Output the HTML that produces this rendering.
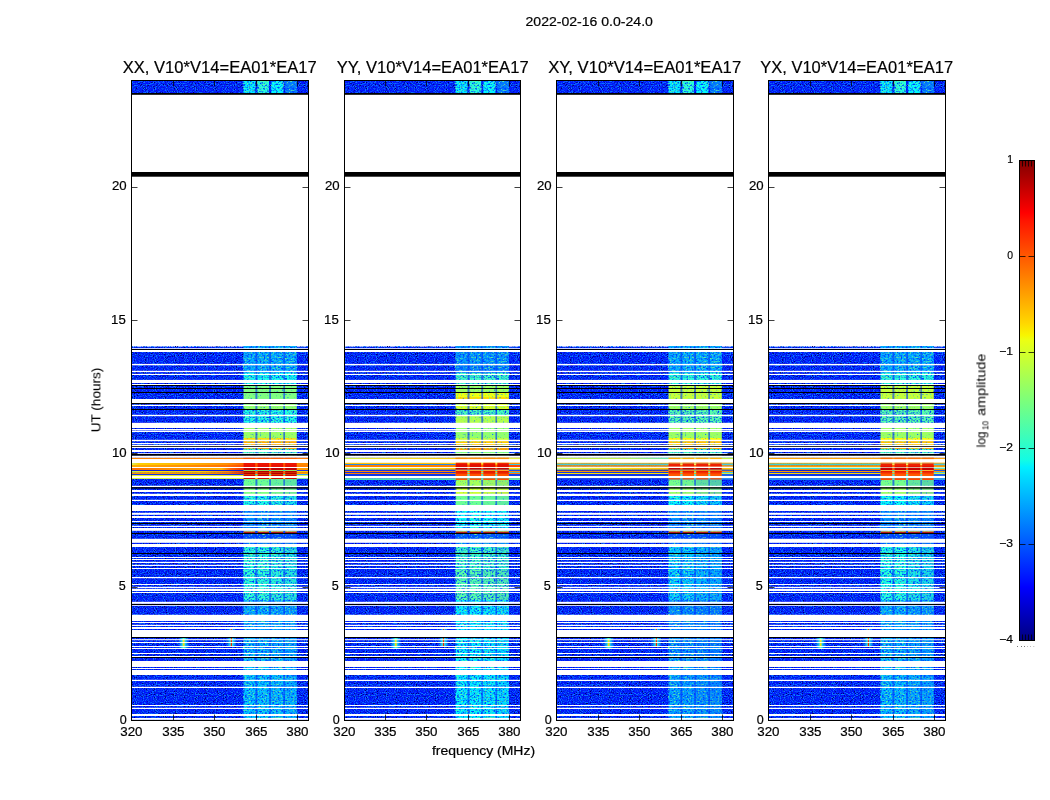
<!DOCTYPE html>
<html><head><meta charset="utf-8"><title>waterfall</title>
<style>html,body{margin:0;padding:0;background:#fff}svg{display:block}text{font-family:"Liberation Sans",sans-serif;fill:#000;stroke:#000;stroke-width:0.2px}.ns text{stroke:none}</style></head><body>
<svg width="1050" height="800" viewBox="0 0 1050 800">
<defs>
<filter id="nzD" x="0" y="0" width="100%" height="100%" color-interpolation-filters="sRGB">
<feTurbulence type="fractalNoise" baseFrequency="0.9" numOctaves="1" seed="7" result="t"/>
<feColorMatrix in="t" type="matrix" values="0 0 0 0 0  0 0 0 0 0  0 0 0 0 0.42  6 0 0 0 -3.3" result="n"/>
</filter>
<filter id="nzL" x="0" y="0" width="100%" height="100%" color-interpolation-filters="sRGB">
<feTurbulence type="fractalNoise" baseFrequency="0.9" numOctaves="1" seed="31" result="t"/>
<feColorMatrix in="t" type="matrix" values="0 0 0 0 0.04  0 0 0 0 0.48  0 0 0 0 1  0 4.5 0 0 -2.12" result="n"/>
</filter>
<filter id="nzB" x="0" y="0" width="100%" height="100%" color-interpolation-filters="sRGB">
<feTurbulence type="fractalNoise" baseFrequency="0.55 0.7" numOctaves="1" seed="11" result="t"/>
<feColorMatrix in="t" type="matrix" values="0 0 0 0 0  0 0 0 0 0.25  0 0 0 0 1  0 0 4 0 -1.85" result="n"/>
</filter>
<filter id="nzB2" x="0" y="0" width="100%" height="100%" color-interpolation-filters="sRGB">
<feTurbulence type="fractalNoise" baseFrequency="0.55 0.7" numOctaves="1" seed="11" result="t"/>
<feColorMatrix in="t" type="matrix" values="0 0 0 0 0  0 0 0 0 0.45  0 0 0 0 1  0 0 4 0 -2.45" result="n"/>
</filter>
<filter id="nzG" x="0" y="0" width="100%" height="100%" color-interpolation-filters="sRGB">
<feTurbulence type="fractalNoise" baseFrequency="0.5 0.7" numOctaves="1" seed="5" result="t"/>
<feColorMatrix in="t" type="matrix" values="0 0 0 0 0.45  0 0 0 0 1  0 0 0 0 0.55  4 0 0 0 -2.2" result="n"/>
</filter>
<linearGradient id="hgA" gradientUnits="userSpaceOnUse" x1="1" y1="0" x2="113" y2="0"><stop offset="0" stop-color="#d8f060"/><stop offset="0.06" stop-color="#ffd000"/><stop offset="0.5" stop-color="#ffb400"/><stop offset="0.85" stop-color="#ff9000"/><stop offset="1" stop-color="#ff6000"/></linearGradient>
<linearGradient id="hgB" gradientUnits="userSpaceOnUse" x1="1" y1="0" x2="113" y2="0"><stop offset="0" stop-color="#ffb000"/><stop offset="0.5" stop-color="#ff8c00"/><stop offset="0.85" stop-color="#ff7000"/><stop offset="1" stop-color="#ff4800"/></linearGradient>
<linearGradient id="hgC" gradientUnits="userSpaceOnUse" x1="1" y1="0" x2="113" y2="0"><stop offset="0" stop-color="#ff6a00"/><stop offset="0.4" stop-color="#ff9400"/><stop offset="0.8" stop-color="#ffb000"/><stop offset="0.88" stop-color="#ff6000"/><stop offset="1" stop-color="#f03000"/></linearGradient>
<linearGradient id="hgD" gradientUnits="userSpaceOnUse" x1="1" y1="0" x2="113" y2="0"><stop offset="0" stop-color="#b0f060"/><stop offset="0.1" stop-color="#ffe000"/><stop offset="0.6" stop-color="#ffd000"/><stop offset="0.85" stop-color="#ff9000"/><stop offset="1" stop-color="#f03000"/></linearGradient>
<linearGradient id="hgF" gradientUnits="userSpaceOnUse" x1="1" y1="0" x2="113" y2="0"><stop offset="0" stop-color="#c8f050"/><stop offset="0.3" stop-color="#f0e020"/><stop offset="1" stop-color="#ffc800"/></linearGradient>
<linearGradient id="hgG" gradientUnits="userSpaceOnUse" x1="1" y1="0" x2="113" y2="0"><stop offset="0" stop-color="#c0ff88"/><stop offset="0.15" stop-color="#e8f840"/><stop offset="0.6" stop-color="#ffe000"/><stop offset="1" stop-color="#ffc000"/></linearGradient>
<linearGradient id="hgH" gradientUnits="userSpaceOnUse" x1="1" y1="0" x2="113" y2="0"><stop offset="0" stop-color="#c8f040"/><stop offset="0.6" stop-color="#c0f048"/><stop offset="1" stop-color="#60e8b0"/></linearGradient>
<linearGradient id="hgE" gradientUnits="userSpaceOnUse" x1="1" y1="0" x2="113" y2="0"><stop offset="0" stop-color="#ff8c00"/><stop offset="0.6" stop-color="#ff9c00"/><stop offset="0.85" stop-color="#ff7000"/><stop offset="1" stop-color="#f03000"/></linearGradient>
<linearGradient id="halo" x1="0" y1="0" x2="1" y2="0"><stop offset="0" stop-color="#10a0ff" stop-opacity="0"/><stop offset="0.2" stop-color="#10b0ff" stop-opacity="0.55"/><stop offset="0.38" stop-color="#20e0f0" stop-opacity="0.95"/><stop offset="0.5" stop-color="#70ffa0" stop-opacity="1"/><stop offset="0.62" stop-color="#20e0f0" stop-opacity="0.95"/><stop offset="0.8" stop-color="#10b0ff" stop-opacity="0.55"/><stop offset="1" stop-color="#10a0ff" stop-opacity="0"/></linearGradient>
<linearGradient id="jet" x1="0" y1="0" x2="0" y2="1">
<stop offset="0" stop-color="#800000"/>
<stop offset="0.11" stop-color="#ff0000"/>
<stop offset="0.125" stop-color="#ff1300"/>
<stop offset="0.34" stop-color="#ffd700"/>
<stop offset="0.365" stop-color="#f8f500"/>
<stop offset="0.375" stop-color="#ecff13"/>
<stop offset="0.5" stop-color="#7dff7a"/>
<stop offset="0.625" stop-color="#13fce4"/>
<stop offset="0.64" stop-color="#00f0ff"/>
<stop offset="0.66" stop-color="#00dcfe"/>
<stop offset="0.875" stop-color="#0010ff"/>
<stop offset="0.89" stop-color="#0000ff"/>
<stop offset="1" stop-color="#000080"/>
</linearGradient>
</defs>
<rect width="1050" height="800" fill="#fff"/>
<g transform="translate(131,80)">
<g>
<rect x="1" y="266.7" width="176" height="373.2" fill="#0014fc"/>
<rect x="1" y="1" width="176" height="12" fill="#0014fc"/>
<rect x="1" y="266.7" width="176" height="373.2" fill="none" filter="url(#nzD)"/>
<rect x="1" y="1" width="176" height="12" fill="none" filter="url(#nzD)"/>
<rect x="1" y="266.7" width="176" height="373.2" fill="none" filter="url(#nzL)"/>
<rect x="1" y="1" width="176" height="12" fill="none" filter="url(#nzL)"/>
<rect x="112.6" y="1" width="11.6" height="12" fill="#00f0ff"/>
<rect x="112.6" y="1" width="11.6" height="12" fill="none" filter="url(#nzB)"/>
<rect x="112.6" y="1" width="11.6" height="12" fill="none" filter="url(#nzG)"/>
<rect x="126.6" y="1" width="11.4" height="12" fill="#24ffdb"/>
<rect x="126.6" y="1" width="11.4" height="12" fill="none" filter="url(#nzB)"/>
<rect x="126.6" y="1" width="11.4" height="12" fill="none" filter="url(#nzG)"/>
<rect x="140.2" y="1" width="12.0" height="12" fill="#00faff"/>
<rect x="140.2" y="1" width="12.0" height="12" fill="none" filter="url(#nzB)"/>
<rect x="140.2" y="1" width="12.0" height="12" fill="none" filter="url(#nzG)"/>
<rect x="154.2" y="1" width="11.6" height="12" fill="#0080ff"/>
<rect x="154.2" y="1" width="11.6" height="12" fill="none" filter="url(#nzB)"/>
<rect x="154.2" y="1" width="11.6" height="12" fill="none" filter="url(#nzG)"/>
<rect x="112.6" y="266.0" width="53.2" height="27.0" fill="#00b2ff"/>
<rect x="112.6" y="293.0" width="53.2" height="12.0" fill="#0ffff0"/>
<rect x="112.6" y="305.0" width="53.2" height="15.0" fill="#80ff80"/>
<rect x="112.6" y="320.0" width="53.2" height="10.0" fill="#94ff6b"/>
<rect x="112.6" y="330.0" width="53.2" height="13.0" fill="#1affe5"/>
<rect x="112.6" y="343.0" width="53.2" height="15.0" fill="#9eff61"/>
<rect x="112.6" y="358.0" width="53.2" height="2.0" fill="#ffdb00"/>
<rect x="112.6" y="360.0" width="53.2" height="6.0" fill="#ffa800"/>
<rect x="112.6" y="366.0" width="53.2" height="3.0" fill="#ff9e00"/>
<rect x="112.6" y="369.0" width="53.2" height="8.0" fill="#42ffbd"/>
<rect x="112.6" y="398.8" width="53.2" height="7.2" fill="#6bff94"/>
<rect x="112.6" y="406.0" width="53.2" height="8.0" fill="#80ff80"/>
<rect x="112.6" y="414.0" width="53.2" height="12.0" fill="#1affe5"/>
<rect x="112.6" y="426.0" width="53.2" height="25.0" fill="#0094ff"/>
<rect x="112.6" y="451.0" width="53.2" height="9.0" fill="#004dff"/>
<rect x="112.6" y="460.0" width="53.2" height="7.0" fill="#0075ff"/>
<rect x="112.6" y="467.0" width="53.2" height="53.0" fill="#24ffdb"/>
<rect x="112.6" y="520.0" width="53.2" height="60.0" fill="#00b2ff"/>
<rect x="112.6" y="580.0" width="53.2" height="60.0" fill="#00c7ff"/>
<rect x="112.6" y="266.0" width="53.2" height="39.0" fill="none" filter="url(#nzB)"/>
<rect x="112.6" y="266.0" width="53.2" height="39.0" fill="none" filter="url(#nzG)"/>
<rect x="112.6" y="305.0" width="53.2" height="25.0" fill="none" filter="url(#nzB2)"/>
<rect x="112.6" y="305.0" width="53.2" height="25.0" fill="none" filter="url(#nzG)"/>
<rect x="112.6" y="330.0" width="53.2" height="13.0" fill="none" filter="url(#nzB)"/>
<rect x="112.6" y="330.0" width="53.2" height="13.0" fill="none" filter="url(#nzG)"/>
<rect x="112.6" y="343.0" width="53.2" height="26.0" fill="none" filter="url(#nzB2)"/>
<rect x="112.6" y="343.0" width="53.2" height="26.0" fill="none" filter="url(#nzG)"/>
<rect x="112.6" y="369.0" width="53.2" height="8.0" fill="none" filter="url(#nzB)"/>
<rect x="112.6" y="369.0" width="53.2" height="8.0" fill="none" filter="url(#nzG)"/>
<rect x="112.6" y="398.8" width="53.2" height="15.2" fill="none" filter="url(#nzB2)"/>
<rect x="112.6" y="398.8" width="53.2" height="15.2" fill="none" filter="url(#nzG)"/>
<rect x="112.6" y="414.0" width="53.2" height="226.0" fill="none" filter="url(#nzB)"/>
<rect x="112.6" y="414.0" width="53.2" height="226.0" fill="none" filter="url(#nzG)"/>
<rect x="140.2" y="399" width="12.0" height="241" fill="#0050ff" opacity="0.08"/>
<rect x="154.2" y="399" width="11.6" height="241" fill="#0050ff" opacity="0.14"/>
<rect x="124.4" y="266.7" width="2.0" height="373.2" fill="#0030ff" opacity="0.62"/>
<rect x="138.2" y="266.7" width="1.8" height="373.2" fill="#0030ff" opacity="0.62"/>
<rect x="152.3" y="266.7" width="1.7" height="373.2" fill="#0030ff" opacity="0.62"/>
<rect x="112.6" y="451.9" width="11.6" height="1" fill="#c81000"/>
<rect x="112.6" y="451.2" width="11.6" height="0.7" fill="#f0d020"/>
<rect x="126.6" y="451.9" width="11.4" height="1" fill="#c81000"/>
<rect x="126.6" y="451.2" width="11.4" height="0.7" fill="#f0d020"/>
<rect x="140.2" y="451.9" width="12.0" height="1" fill="#c81000"/>
<rect x="140.2" y="451.2" width="12.0" height="0.7" fill="#f0d020"/>
<rect x="154.2" y="451.9" width="11.6" height="1" fill="#c81000"/>
<rect x="154.2" y="451.2" width="11.6" height="0.7" fill="#f0d020"/>
<rect x="46.6" y="558" width="12" height="10" fill="url(#halo)"/><rect x="51.8" y="559.5" width="1.7" height="6.5" fill="#f0e010"/>
<rect x="94.4" y="558" width="12" height="9" fill="url(#halo)"/><rect x="99.8" y="558" width="1.2" height="8" fill="#f02000"/><rect x="96.4" y="548.6" width="8" height="1.6" fill="url(#halo)"/><rect x="99.8" y="549" width="1.2" height="1" fill="#f02000"/>
<rect x="1" y="268.1" width="176" height="0.8" fill="#fff"/>
<rect x="1" y="269" width="176" height="1" fill="#000"/>
<rect x="1" y="270.0" width="176" height="2.0" fill="#fff"/>
<rect x="1" y="283.9" width="176" height="1.4" fill="#fff"/>
<rect x="1" y="290.8" width="176" height="1.3" fill="#fff"/>
<rect x="1" y="293.9" width="176" height="1.1" fill="#fff"/>
<rect x="1" y="299.9" width="176" height="3.1" fill="#fff"/>
<rect x="1" y="304.0" width="176" height="1.2" fill="#fff"/>
<rect x="1" y="305" width="176" height="1" fill="#000"/>
<rect x="1" y="308" width="176" height="1" fill="#000"/>
<rect x="1" y="312" width="176" height="1" fill="#000"/>
<rect x="1" y="319.0" width="176" height="4.2" fill="#fff"/>
<rect x="1" y="323" width="176" height="1" fill="#000"/>
<rect x="1" y="324.8" width="176" height="1.2" fill="#fff"/>
<rect x="1" y="329" width="176" height="1" fill="#000"/>
<rect x="1" y="334.8" width="176" height="1.4" fill="#fff"/>
<rect x="1" y="342.8" width="176" height="5.2" fill="#fff"/>
<rect x="1" y="349.0" width="176" height="1.0" fill="#fff"/>
<rect x="1" y="350.5" width="176" height="1.5" fill="#fff"/>
<rect x="1" y="359.8" width="176" height="1.4" fill="#fff"/>
<rect x="1" y="363.0" width="176" height="1.2" fill="#fff"/>
<rect x="1" y="365.0" width="176" height="1.0" fill="#fff"/>
<rect x="1" y="366" width="176" height="1" fill="#000"/>
<rect x="1" y="366.8" width="176" height="1.2" fill="#fff"/>
<rect x="1" y="370.0" width="176" height="2.0" fill="#fff"/>
<rect x="1" y="373.2" width="176" height="0.8" fill="#fff"/>
<rect x="1" y="374.0" width="176" height="1.8" fill="#000"/>
<rect x="1" y="375.8" width="176" height="2.0" fill="#fff"/>
<rect x="1" y="379.0" width="176" height="4.0" fill="#fff"/>
<rect x="1" y="387.0" width="176" height="1.0" fill="#fff"/>
<rect x="1" y="405.8" width="176" height="1.4" fill="#fff"/>
<rect x="1" y="407.2" width="176" height="1.4" fill="#000"/>
<rect x="1" y="410.0" width="176" height="2.0" fill="#fff"/>
<rect x="1" y="413.8" width="176" height="2.2" fill="#fff"/>
<rect x="1" y="419.8" width="176" height="1.2" fill="#fff"/>
<rect x="1" y="425.0" width="176" height="6.0" fill="#fff"/>
<rect x="1" y="432.8" width="176" height="2.0" fill="#fff"/>
<rect x="1" y="436.0" width="176" height="2.0" fill="#fff"/>
<rect x="1" y="441.0" width="176" height="1.0" fill="#fff"/>
<rect x="1" y="443" width="176" height="1" fill="#000"/>
<rect x="1" y="445.8" width="176" height="1.2" fill="#fff"/>
<rect x="1" y="448.0" width="176" height="2.8" fill="#fff"/>
<rect x="1" y="453" width="176" height="1" fill="#000"/>
<rect x="1" y="458.8" width="176" height="4.0" fill="#fff"/>
<rect x="1" y="464.0" width="176" height="3.0" fill="#fff"/>
<rect x="1" y="473" width="176" height="1" fill="#000"/>
<rect x="1" y="477.0" width="176" height="1.0" fill="#fff"/>
<rect x="1" y="479.0" width="176" height="1.0" fill="#fff"/>
<rect x="1" y="481.8" width="176" height="1.2" fill="#fff"/>
<rect x="1" y="484.8" width="176" height="1.2" fill="#fff"/>
<rect x="1" y="488.0" width="176" height="1.0" fill="#fff"/>
<rect x="1" y="497.0" width="176" height="1.2" fill="#fff"/>
<rect x="1" y="504.0" width="176" height="1.0" fill="#fff"/>
<rect x="1" y="506.8" width="176" height="1.2" fill="#fff"/>
<rect x="1" y="508.8" width="176" height="2.2" fill="#fff"/>
<rect x="1" y="512.0" width="176" height="1.0" fill="#fff"/>
<rect x="1" y="521.8" width="176" height="2.0" fill="#fff"/>
<rect x="1" y="524" width="176" height="1" fill="#000"/>
<rect x="1" y="525.0" width="176" height="0.8" fill="#fff"/>
<rect x="1" y="534.8" width="176" height="6.2" fill="#fff"/>
<rect x="1" y="542.0" width="176" height="1.0" fill="#fff"/>
<rect x="1" y="544.8" width="176" height="1.2" fill="#fff"/>
<rect x="1" y="547.0" width="176" height="2.0" fill="#fff"/>
<rect x="1" y="550.0" width="176" height="7.0" fill="#fff"/>
<rect x="1" y="557" width="176" height="1" fill="#000"/>
<rect x="1" y="559.2" width="176" height="1.0" fill="#fff"/>
<rect x="1" y="562.0" width="176" height="1.0" fill="#fff"/>
<rect x="1" y="566.0" width="176" height="1.0" fill="#fff"/>
<rect x="1" y="568.0" width="176" height="1.0" fill="#fff"/>
<rect x="1" y="573.0" width="176" height="1.0" fill="#fff"/>
<rect x="1" y="576.0" width="176" height="1.0" fill="#fff"/>
<rect x="1" y="577" width="176" height="1" fill="#000"/>
<rect x="1" y="581.0" width="176" height="6.0" fill="#fff"/>
<rect x="1" y="588.0" width="176" height="1.0" fill="#fff"/>
<rect x="1" y="590.0" width="176" height="5.0" fill="#fff"/>
<rect x="1" y="599.8" width="176" height="1.2" fill="#fff"/>
<rect x="1" y="606.8" width="176" height="1.2" fill="#fff"/>
<rect x="1" y="625.0" width="176" height="1.0" fill="#fff"/>
<rect x="1" y="627.8" width="176" height="1.2" fill="#fff"/>
<rect x="1" y="634.0" width="176" height="2.0" fill="#fff"/>
<rect x="1" y="638.0" width="176" height="1.8" fill="#fff"/>
<rect x="1" y="377.9" width="176" height="1.1" fill="#ff8400"/>
<rect x="112.6" y="377.9" width="53.2" height="1.1" fill="#ff7000"/>
<rect x="112.6" y="377.9" width="11.6" height="1.1" fill="#ff6000"/>
<rect x="126.6" y="377.9" width="11.4" height="1.1" fill="#ff6000"/>
<rect x="140.2" y="377.9" width="12.0" height="1.1" fill="#ff6000"/>
<rect x="154.2" y="377.9" width="11.6" height="1.1" fill="#ff6000"/>
<rect x="165.8" y="377.9" width="11.2" height="1.1" fill="#ff7a00"/>
<rect x="1" y="379.0" width="176" height="4.0" fill="#ffffff"/>
<rect x="1" y="383.0" width="176" height="2.0" fill="url(#hgA)"/>
<rect x="112.6" y="383.0" width="53.2" height="2.0" fill="#ff5a00"/>
<rect x="112.6" y="383.0" width="11.6" height="2.0" fill="#ee1400"/>
<rect x="126.6" y="383.0" width="11.4" height="2.0" fill="#ee1400"/>
<rect x="140.2" y="383.0" width="12.0" height="2.0" fill="#ee1400"/>
<rect x="154.2" y="383.0" width="11.6" height="2.0" fill="#ee1400"/>
<rect x="165.8" y="383.0" width="11.2" height="2.0" fill="#ff8a00"/>
<rect x="1" y="385.0" width="176" height="2.0" fill="url(#hgB)"/>
<rect x="112.6" y="385.0" width="53.2" height="2.0" fill="#ff5000"/>
<rect x="112.6" y="385.0" width="11.6" height="2.0" fill="#e81000"/>
<rect x="126.6" y="385.0" width="11.4" height="2.0" fill="#e81000"/>
<rect x="140.2" y="385.0" width="12.0" height="2.0" fill="#e81000"/>
<rect x="154.2" y="385.0" width="11.6" height="2.0" fill="#e81000"/>
<rect x="165.8" y="385.0" width="11.2" height="2.0" fill="#ff8000"/>
<rect x="1" y="387.0" width="176" height="1.0" fill="#ffffff"/>
<rect x="1" y="388.0" width="176" height="2.0" fill="url(#hgC)"/>
<rect x="112.6" y="388.0" width="53.2" height="2.0" fill="#ff4000"/>
<rect x="112.6" y="388.0" width="11.6" height="2.0" fill="#c00000"/>
<rect x="126.6" y="388.0" width="11.4" height="2.0" fill="#c00000"/>
<rect x="140.2" y="388.0" width="12.0" height="2.0" fill="#c00000"/>
<rect x="154.2" y="388.0" width="11.6" height="2.0" fill="#c00000"/>
<rect x="165.8" y="388.0" width="11.2" height="2.0" fill="#ff9800"/>
<rect x="1" y="390.0" width="176" height="1.0" fill="#1020d0"/>
<rect x="112.6" y="390.0" width="53.2" height="1.0" fill="#20c0e0"/>
<rect x="112.6" y="390.0" width="11.6" height="1.0" fill="#9adf60"/>
<rect x="126.6" y="390.0" width="11.4" height="1.0" fill="#9adf60"/>
<rect x="140.2" y="390.0" width="12.0" height="1.0" fill="#9adf60"/>
<rect x="154.2" y="390.0" width="11.6" height="1.0" fill="#9adf60"/>
<rect x="165.8" y="390.0" width="11.2" height="1.0" fill="#2030e0"/>
<rect x="1" y="391.0" width="176" height="1.0" fill="url(#hgD)"/>
<rect x="112.6" y="391.0" width="53.2" height="1.0" fill="#ff7000"/>
<rect x="112.6" y="391.0" width="11.6" height="1.0" fill="#b40000"/>
<rect x="126.6" y="391.0" width="11.4" height="1.0" fill="#b40000"/>
<rect x="140.2" y="391.0" width="12.0" height="1.0" fill="#b40000"/>
<rect x="154.2" y="391.0" width="11.6" height="1.0" fill="#b40000"/>
<rect x="165.8" y="391.0" width="11.2" height="1.0" fill="#ffd000"/>
<rect x="1" y="392.0" width="176" height="0.7" fill="url(#hgD)"/>
<rect x="112.6" y="392.0" width="53.2" height="0.7" fill="#ff7000"/>
<rect x="112.6" y="392.0" width="11.6" height="0.7" fill="#b40000"/>
<rect x="126.6" y="392.0" width="11.4" height="0.7" fill="#b40000"/>
<rect x="140.2" y="392.0" width="12.0" height="0.7" fill="#b40000"/>
<rect x="154.2" y="392.0" width="11.6" height="0.7" fill="#b40000"/>
<rect x="165.8" y="392.0" width="11.2" height="0.7" fill="#ffc000"/>
<rect x="1" y="392.7" width="176" height="1.3" fill="url(#hgE)"/>
<rect x="112.6" y="392.7" width="53.2" height="1.3" fill="#ff7000"/>
<rect x="112.6" y="392.7" width="11.6" height="1.3" fill="#b00000"/>
<rect x="126.6" y="392.7" width="11.4" height="1.3" fill="#b00000"/>
<rect x="140.2" y="392.7" width="12.0" height="1.3" fill="#b00000"/>
<rect x="154.2" y="392.7" width="11.6" height="1.3" fill="#b00000"/>
<rect x="165.8" y="392.7" width="11.2" height="1.3" fill="#ffa800"/>
<rect x="1" y="394.0" width="176" height="1.0" fill="#1838e0"/>
<rect x="112.6" y="394.0" width="53.2" height="1.0" fill="#40d0d0"/>
<rect x="112.6" y="394.0" width="11.6" height="1.0" fill="#e04000"/>
<rect x="126.6" y="394.0" width="11.4" height="1.0" fill="#e04000"/>
<rect x="140.2" y="394.0" width="12.0" height="1.0" fill="#e04000"/>
<rect x="154.2" y="394.0" width="11.6" height="1.0" fill="#e04000"/>
<rect x="165.8" y="394.0" width="11.2" height="1.0" fill="#30a0f0"/>
<rect x="1" y="395.0" width="176" height="1.0" fill="#e6f428"/>
<rect x="112.6" y="395.0" width="53.2" height="1.0" fill="#ffb000"/>
<rect x="112.6" y="395.0" width="11.6" height="1.0" fill="#d40000"/>
<rect x="126.6" y="395.0" width="11.4" height="1.0" fill="#d40000"/>
<rect x="140.2" y="395.0" width="12.0" height="1.0" fill="#d40000"/>
<rect x="154.2" y="395.0" width="11.6" height="1.0" fill="#d40000"/>
<rect x="165.8" y="395.0" width="11.2" height="1.0" fill="#d8ff60"/>
<rect x="1" y="396.0" width="176" height="2.0" fill="#ffffff"/>
<rect x="1" y="398.0" width="176" height="1.0" fill="#d0f040"/>
<rect x="112.6" y="398.0" width="53.2" height="1.0" fill="#ffe000"/>
<rect x="112.6" y="398.0" width="11.6" height="1.0" fill="#d01000"/>
<rect x="126.6" y="398.0" width="11.4" height="1.0" fill="#d01000"/>
<rect x="140.2" y="398.0" width="12.0" height="1.0" fill="#d01000"/>
<rect x="154.2" y="398.0" width="11.6" height="1.0" fill="#d01000"/>
<rect x="165.8" y="398.0" width="11.2" height="1.0" fill="#80e8a0"/>
</g>
<rect x="1" y="13" width="176" height="1.8" fill="#000"/>
<rect x="1" y="92" width="176" height="4.7" fill="#000"/>
<path d="M42.5 640v-5.5M42.5 1v5.5M83.5 640v-5.5M83.5 1v5.5M125.5 640v-5.5M125.5 1v5.5M166.5 640v-5.5M166.5 1v5.5M1 507.5h5.5M177 507.5h-5.5M1 373.5h5.5M177 373.5h-5.5M1 240.5h5.5M177 240.5h-5.5M1 107.5h5.5M177 107.5h-5.5" stroke="#000" stroke-width="0.75" fill="none"/>
<rect x="0.5" y="0.5" width="177" height="640" fill="none" stroke="#000" stroke-width="1" shape-rendering="crispEdges"/>
<g opacity="0.999">
<text x="0.4" y="656" font-size="12.8" text-anchor="middle" textLength="22.3" lengthAdjust="spacingAndGlyphs">320</text>
<text x="42.4" y="656" font-size="12.8" text-anchor="middle" textLength="22.3" lengthAdjust="spacingAndGlyphs">335</text>
<text x="83.4" y="656" font-size="12.8" text-anchor="middle" textLength="22.3" lengthAdjust="spacingAndGlyphs">350</text>
<text x="125.4" y="656" font-size="12.8" text-anchor="middle" textLength="22.3" lengthAdjust="spacingAndGlyphs">365</text>
<text x="166.4" y="656" font-size="12.8" text-anchor="middle" textLength="22.3" lengthAdjust="spacingAndGlyphs">380</text>
<text x="-4.3" y="644" font-size="12.8" text-anchor="end" textLength="7.0" lengthAdjust="spacingAndGlyphs">0</text>
<text x="-5.2" y="510" font-size="12.8" text-anchor="end" textLength="7.0" lengthAdjust="spacingAndGlyphs">5</text>
<text x="-4.3" y="377" font-size="12.8" text-anchor="end" textLength="14.7" lengthAdjust="spacingAndGlyphs">10</text>
<text x="-5.2" y="244" font-size="12.8" text-anchor="end" textLength="14.7" lengthAdjust="spacingAndGlyphs">15</text>
<text x="-4.3" y="110" font-size="12.8" text-anchor="end" textLength="14.7" lengthAdjust="spacingAndGlyphs">20</text>
<text x="88.7" y="-7.2" font-size="16.8" text-anchor="middle" textLength="194.0" lengthAdjust="spacingAndGlyphs">XX, V10*V14=EA01*EA17</text>
</g>
</g>
<g transform="translate(344,80)">
<g transform="translate(-0.9,0)">
<rect x="1" y="266.7" width="176" height="373.2" fill="#0014fc"/>
<rect x="1" y="1" width="176" height="12" fill="#0014fc"/>
<rect x="1" y="266.7" width="176" height="373.2" fill="none" filter="url(#nzD)"/>
<rect x="1" y="1" width="176" height="12" fill="none" filter="url(#nzD)"/>
<rect x="1" y="266.7" width="176" height="373.2" fill="none" filter="url(#nzL)"/>
<rect x="1" y="1" width="176" height="12" fill="none" filter="url(#nzL)"/>
<rect x="112.6" y="1" width="11.6" height="12" fill="#00f0ff"/>
<rect x="112.6" y="1" width="11.6" height="12" fill="none" filter="url(#nzB)"/>
<rect x="112.6" y="1" width="11.6" height="12" fill="none" filter="url(#nzG)"/>
<rect x="126.6" y="1" width="11.4" height="12" fill="#24ffdb"/>
<rect x="126.6" y="1" width="11.4" height="12" fill="none" filter="url(#nzB)"/>
<rect x="126.6" y="1" width="11.4" height="12" fill="none" filter="url(#nzG)"/>
<rect x="140.2" y="1" width="12.0" height="12" fill="#00faff"/>
<rect x="140.2" y="1" width="12.0" height="12" fill="none" filter="url(#nzB)"/>
<rect x="140.2" y="1" width="12.0" height="12" fill="none" filter="url(#nzG)"/>
<rect x="154.2" y="1" width="11.6" height="12" fill="#0080ff"/>
<rect x="154.2" y="1" width="11.6" height="12" fill="none" filter="url(#nzB)"/>
<rect x="154.2" y="1" width="11.6" height="12" fill="none" filter="url(#nzG)"/>
<rect x="112.6" y="266.0" width="53.2" height="18.0" fill="#009eff"/>
<rect x="112.6" y="284.0" width="53.2" height="9.0" fill="#008aff"/>
<rect x="112.6" y="293.0" width="53.2" height="12.0" fill="#38ffc7"/>
<rect x="112.6" y="305.0" width="53.2" height="8.0" fill="#9eff61"/>
<rect x="112.6" y="313.0" width="53.2" height="4.0" fill="#f0ff0f"/>
<rect x="112.6" y="317.0" width="53.2" height="3.0" fill="#ffdb00"/>
<rect x="112.6" y="320.0" width="53.2" height="10.0" fill="#dbff24"/>
<rect x="112.6" y="330.0" width="53.2" height="6.0" fill="#42ffbd"/>
<rect x="112.6" y="336.0" width="53.2" height="7.0" fill="#b3ff4c"/>
<rect x="112.6" y="343.0" width="53.2" height="15.0" fill="#94ff6b"/>
<rect x="112.6" y="358.0" width="53.2" height="2.0" fill="#c7ff38"/>
<rect x="112.6" y="360.0" width="53.2" height="6.0" fill="#ffc700"/>
<rect x="112.6" y="366.0" width="53.2" height="4.0" fill="#ff9e00"/>
<rect x="112.6" y="370.0" width="53.2" height="7.0" fill="#80ff80"/>
<rect x="112.6" y="398.8" width="53.2" height="7.2" fill="#a8ff57"/>
<rect x="112.6" y="406.0" width="53.2" height="8.0" fill="#d1ff2e"/>
<rect x="112.6" y="414.0" width="53.2" height="12.0" fill="#6bff94"/>
<rect x="112.6" y="426.0" width="53.2" height="25.0" fill="#05fffa"/>
<rect x="112.6" y="451.0" width="53.2" height="9.0" fill="#0061ff"/>
<rect x="112.6" y="460.0" width="53.2" height="7.0" fill="#0094ff"/>
<rect x="112.6" y="467.0" width="53.2" height="23.0" fill="#38ffc7"/>
<rect x="112.6" y="490.0" width="53.2" height="30.0" fill="#52ffad"/>
<rect x="112.6" y="520.0" width="53.2" height="60.0" fill="#00f0ff"/>
<rect x="112.6" y="580.0" width="53.2" height="60.0" fill="#00f0ff"/>
<rect x="112.6" y="266.0" width="53.2" height="39.0" fill="none" filter="url(#nzB)"/>
<rect x="112.6" y="266.0" width="53.2" height="39.0" fill="none" filter="url(#nzG)"/>
<rect x="112.6" y="305.0" width="53.2" height="25.0" fill="none" filter="url(#nzB2)"/>
<rect x="112.6" y="305.0" width="53.2" height="25.0" fill="none" filter="url(#nzG)"/>
<rect x="112.6" y="330.0" width="53.2" height="6.0" fill="none" filter="url(#nzB)"/>
<rect x="112.6" y="330.0" width="53.2" height="6.0" fill="none" filter="url(#nzG)"/>
<rect x="112.6" y="336.0" width="53.2" height="41.0" fill="none" filter="url(#nzB2)"/>
<rect x="112.6" y="336.0" width="53.2" height="41.0" fill="none" filter="url(#nzG)"/>
<rect x="112.6" y="398.8" width="53.2" height="27.2" fill="none" filter="url(#nzB2)"/>
<rect x="112.6" y="398.8" width="53.2" height="27.2" fill="none" filter="url(#nzG)"/>
<rect x="112.6" y="426.0" width="53.2" height="214.0" fill="none" filter="url(#nzB)"/>
<rect x="112.6" y="426.0" width="53.2" height="214.0" fill="none" filter="url(#nzG)"/>
<rect x="140.2" y="399" width="12.0" height="241" fill="#0050ff" opacity="0.05"/>
<rect x="154.2" y="399" width="11.6" height="241" fill="#0050ff" opacity="0.1"/>
<rect x="124.4" y="266.7" width="2.0" height="373.2" fill="#0030ff" opacity="0.62"/>
<rect x="138.2" y="266.7" width="1.8" height="373.2" fill="#0030ff" opacity="0.62"/>
<rect x="152.3" y="266.7" width="1.7" height="373.2" fill="#0030ff" opacity="0.62"/>
<rect x="112.6" y="451.9" width="11.6" height="1" fill="#c81000"/>
<rect x="112.6" y="451.2" width="11.6" height="0.7" fill="#f0d020"/>
<rect x="126.6" y="451.9" width="11.4" height="1" fill="#c81000"/>
<rect x="126.6" y="451.2" width="11.4" height="0.7" fill="#f0d020"/>
<rect x="140.2" y="451.9" width="12.0" height="1" fill="#c81000"/>
<rect x="140.2" y="451.2" width="12.0" height="0.7" fill="#f0d020"/>
<rect x="154.2" y="451.9" width="11.6" height="1" fill="#c81000"/>
<rect x="154.2" y="451.2" width="11.6" height="0.7" fill="#f0d020"/>
<rect x="46.6" y="558" width="12" height="10" fill="url(#halo)"/><rect x="51.8" y="559.5" width="1.7" height="6.5" fill="#f0e010"/>
<rect x="94.4" y="558" width="12" height="9" fill="url(#halo)"/><rect x="99.8" y="558" width="1.2" height="8" fill="#f02000"/><rect x="96.4" y="548.6" width="8" height="1.6" fill="url(#halo)"/><rect x="99.8" y="549" width="1.2" height="1" fill="#f02000"/>
<rect x="1" y="268.1" width="176" height="0.8" fill="#fff"/>
<rect x="1" y="269" width="176" height="1" fill="#000"/>
<rect x="1" y="270.0" width="176" height="2.0" fill="#fff"/>
<rect x="1" y="283.9" width="176" height="1.4" fill="#fff"/>
<rect x="1" y="290.8" width="176" height="1.3" fill="#fff"/>
<rect x="1" y="293.9" width="176" height="1.1" fill="#fff"/>
<rect x="1" y="299.9" width="176" height="3.1" fill="#fff"/>
<rect x="1" y="304.0" width="176" height="1.2" fill="#fff"/>
<rect x="1" y="305" width="176" height="1" fill="#000"/>
<rect x="1" y="308" width="176" height="1" fill="#000"/>
<rect x="1" y="312" width="176" height="1" fill="#000"/>
<rect x="1" y="319.0" width="176" height="4.2" fill="#fff"/>
<rect x="1" y="323" width="176" height="1" fill="#000"/>
<rect x="1" y="324.8" width="176" height="1.2" fill="#fff"/>
<rect x="1" y="329" width="176" height="1" fill="#000"/>
<rect x="1" y="334.8" width="176" height="1.4" fill="#fff"/>
<rect x="1" y="342.8" width="176" height="5.2" fill="#fff"/>
<rect x="1" y="349.0" width="176" height="1.0" fill="#fff"/>
<rect x="1" y="350.5" width="176" height="1.5" fill="#fff"/>
<rect x="1" y="359.8" width="176" height="1.4" fill="#fff"/>
<rect x="1" y="363.0" width="176" height="1.2" fill="#fff"/>
<rect x="1" y="365.0" width="176" height="1.0" fill="#fff"/>
<rect x="1" y="366" width="176" height="1" fill="#000"/>
<rect x="1" y="366.8" width="176" height="1.2" fill="#fff"/>
<rect x="1" y="370.0" width="176" height="2.0" fill="#fff"/>
<rect x="1" y="373.2" width="176" height="0.8" fill="#fff"/>
<rect x="1" y="374.0" width="176" height="1.8" fill="#000"/>
<rect x="1" y="375.8" width="176" height="2.0" fill="#fff"/>
<rect x="1" y="379.0" width="176" height="4.0" fill="#fff"/>
<rect x="1" y="387.0" width="176" height="1.0" fill="#fff"/>
<rect x="1" y="405.8" width="176" height="1.4" fill="#fff"/>
<rect x="1" y="407.2" width="176" height="1.4" fill="#000"/>
<rect x="1" y="410.0" width="176" height="2.0" fill="#fff"/>
<rect x="1" y="413.8" width="176" height="2.2" fill="#fff"/>
<rect x="1" y="419.8" width="176" height="1.2" fill="#fff"/>
<rect x="1" y="425.0" width="176" height="6.0" fill="#fff"/>
<rect x="1" y="432.8" width="176" height="2.0" fill="#fff"/>
<rect x="1" y="436.0" width="176" height="2.0" fill="#fff"/>
<rect x="1" y="441.0" width="176" height="1.0" fill="#fff"/>
<rect x="1" y="443" width="176" height="1" fill="#000"/>
<rect x="1" y="445.8" width="176" height="1.2" fill="#fff"/>
<rect x="1" y="448.0" width="176" height="2.8" fill="#fff"/>
<rect x="1" y="453" width="176" height="1" fill="#000"/>
<rect x="1" y="458.8" width="176" height="4.0" fill="#fff"/>
<rect x="1" y="464.0" width="176" height="3.0" fill="#fff"/>
<rect x="1" y="473" width="176" height="1" fill="#000"/>
<rect x="1" y="477.0" width="176" height="1.0" fill="#fff"/>
<rect x="1" y="479.0" width="176" height="1.0" fill="#fff"/>
<rect x="1" y="481.8" width="176" height="1.2" fill="#fff"/>
<rect x="1" y="484.8" width="176" height="1.2" fill="#fff"/>
<rect x="1" y="488.0" width="176" height="1.0" fill="#fff"/>
<rect x="1" y="497.0" width="176" height="1.2" fill="#fff"/>
<rect x="1" y="504.0" width="176" height="1.0" fill="#fff"/>
<rect x="1" y="506.8" width="176" height="1.2" fill="#fff"/>
<rect x="1" y="508.8" width="176" height="2.2" fill="#fff"/>
<rect x="1" y="512.0" width="176" height="1.0" fill="#fff"/>
<rect x="1" y="521.8" width="176" height="2.0" fill="#fff"/>
<rect x="1" y="524" width="176" height="1" fill="#000"/>
<rect x="1" y="525.0" width="176" height="0.8" fill="#fff"/>
<rect x="1" y="534.8" width="176" height="6.2" fill="#fff"/>
<rect x="1" y="542.0" width="176" height="1.0" fill="#fff"/>
<rect x="1" y="544.8" width="176" height="1.2" fill="#fff"/>
<rect x="1" y="547.0" width="176" height="2.0" fill="#fff"/>
<rect x="1" y="550.0" width="176" height="7.0" fill="#fff"/>
<rect x="1" y="557" width="176" height="1" fill="#000"/>
<rect x="1" y="559.2" width="176" height="1.0" fill="#fff"/>
<rect x="1" y="562.0" width="176" height="1.0" fill="#fff"/>
<rect x="1" y="566.0" width="176" height="1.0" fill="#fff"/>
<rect x="1" y="568.0" width="176" height="1.0" fill="#fff"/>
<rect x="1" y="573.0" width="176" height="1.0" fill="#fff"/>
<rect x="1" y="576.0" width="176" height="1.0" fill="#fff"/>
<rect x="1" y="577" width="176" height="1" fill="#000"/>
<rect x="1" y="581.0" width="176" height="6.0" fill="#fff"/>
<rect x="1" y="588.0" width="176" height="1.0" fill="#fff"/>
<rect x="1" y="590.0" width="176" height="5.0" fill="#fff"/>
<rect x="1" y="599.8" width="176" height="1.2" fill="#fff"/>
<rect x="1" y="606.8" width="176" height="1.2" fill="#fff"/>
<rect x="1" y="625.0" width="176" height="1.0" fill="#fff"/>
<rect x="1" y="627.8" width="176" height="1.2" fill="#fff"/>
<rect x="1" y="634.0" width="176" height="2.0" fill="#fff"/>
<rect x="1" y="638.0" width="176" height="1.8" fill="#fff"/>
<rect x="1" y="377.8" width="176" height="1.4" fill="url(#hgF)"/>
<rect x="112.6" y="377.8" width="53.2" height="1.4" fill="#ffa000"/>
<rect x="112.6" y="377.8" width="11.6" height="1.4" fill="#ff9000"/>
<rect x="126.6" y="377.8" width="11.4" height="1.4" fill="#ff9000"/>
<rect x="140.2" y="377.8" width="12.0" height="1.4" fill="#ff9000"/>
<rect x="154.2" y="377.8" width="11.6" height="1.4" fill="#ff9000"/>
<rect x="165.8" y="377.8" width="11.2" height="1.4" fill="#e0f040"/>
<rect x="1" y="379.2" width="176" height="3.6" fill="#ffffff"/>
<rect x="1" y="382.8" width="176" height="1.2" fill="#ffc000"/>
<rect x="112.6" y="382.8" width="53.2" height="1.2" fill="#ffd040"/>
<rect x="112.6" y="382.8" width="11.6" height="1.2" fill="#f02800"/>
<rect x="126.6" y="382.8" width="11.4" height="1.2" fill="#f02800"/>
<rect x="140.2" y="382.8" width="12.0" height="1.2" fill="#f02800"/>
<rect x="154.2" y="382.8" width="11.6" height="1.2" fill="#f02800"/>
<rect x="165.8" y="382.8" width="11.2" height="1.2" fill="#ff9000"/>
<rect x="1" y="384.0" width="176" height="1.0" fill="#2888e8"/>
<rect x="112.6" y="384.0" width="53.2" height="1.0" fill="#ffb000"/>
<rect x="112.6" y="384.0" width="11.6" height="1.0" fill="#e81000"/>
<rect x="126.6" y="384.0" width="11.4" height="1.0" fill="#e81000"/>
<rect x="140.2" y="384.0" width="12.0" height="1.0" fill="#e81000"/>
<rect x="154.2" y="384.0" width="11.6" height="1.0" fill="#e81000"/>
<rect x="165.8" y="384.0" width="11.2" height="1.0" fill="#40c8e0"/>
<rect x="1" y="385.0" width="176" height="2.2" fill="#ff8000"/>
<rect x="112.6" y="385.0" width="53.2" height="2.2" fill="#ff6000"/>
<rect x="112.6" y="385.0" width="11.6" height="2.2" fill="#e01000"/>
<rect x="126.6" y="385.0" width="11.4" height="2.2" fill="#e01000"/>
<rect x="140.2" y="385.0" width="12.0" height="2.2" fill="#e01000"/>
<rect x="154.2" y="385.0" width="11.6" height="2.2" fill="#e01000"/>
<rect x="165.8" y="385.0" width="11.2" height="2.2" fill="#ff4800"/>
<rect x="1" y="387.2" width="176" height="0.8" fill="#ffffff"/>
<rect x="1" y="388.0" width="176" height="1.8" fill="url(#hgG)"/>
<rect x="112.6" y="388.0" width="53.2" height="1.8" fill="#ff5000"/>
<rect x="112.6" y="388.0" width="11.6" height="1.8" fill="#c00000"/>
<rect x="126.6" y="388.0" width="11.4" height="1.8" fill="#c00000"/>
<rect x="140.2" y="388.0" width="12.0" height="1.8" fill="#c00000"/>
<rect x="154.2" y="388.0" width="11.6" height="1.8" fill="#c00000"/>
<rect x="165.8" y="388.0" width="11.2" height="1.8" fill="#ffe000"/>
<rect x="1" y="389.8" width="176" height="1.2" fill="#1830e0"/>
<rect x="112.6" y="389.8" width="53.2" height="1.2" fill="#60d0c0"/>
<rect x="112.6" y="389.8" width="11.6" height="1.2" fill="#ffa030"/>
<rect x="126.6" y="389.8" width="11.4" height="1.2" fill="#ffa030"/>
<rect x="140.2" y="389.8" width="12.0" height="1.2" fill="#ffa030"/>
<rect x="154.2" y="389.8" width="11.6" height="1.2" fill="#ffa030"/>
<rect x="165.8" y="389.8" width="11.2" height="1.2" fill="#2050e8"/>
<rect x="1" y="391.0" width="176" height="1.0" fill="#ff8800"/>
<rect x="112.6" y="391.0" width="53.2" height="1.0" fill="#ffb000"/>
<rect x="112.6" y="391.0" width="11.6" height="1.0" fill="#e01800"/>
<rect x="126.6" y="391.0" width="11.4" height="1.0" fill="#e01800"/>
<rect x="140.2" y="391.0" width="12.0" height="1.0" fill="#e01800"/>
<rect x="154.2" y="391.0" width="11.6" height="1.0" fill="#e01800"/>
<rect x="165.8" y="391.0" width="11.2" height="1.0" fill="#ff9000"/>
<rect x="1" y="392.0" width="176" height="1.0" fill="#1830e0"/>
<rect x="112.6" y="392.0" width="53.2" height="1.0" fill="#80e0a0"/>
<rect x="112.6" y="392.0" width="11.6" height="1.0" fill="#e82000"/>
<rect x="126.6" y="392.0" width="11.4" height="1.0" fill="#e82000"/>
<rect x="140.2" y="392.0" width="12.0" height="1.0" fill="#e82000"/>
<rect x="154.2" y="392.0" width="11.6" height="1.0" fill="#e82000"/>
<rect x="165.8" y="392.0" width="11.2" height="1.0" fill="#30b0e8"/>
<rect x="1" y="393.0" width="176" height="1.0" fill="#ff8000"/>
<rect x="112.6" y="393.0" width="53.2" height="1.0" fill="#ffa000"/>
<rect x="112.6" y="393.0" width="11.6" height="1.0" fill="#f03000"/>
<rect x="126.6" y="393.0" width="11.4" height="1.0" fill="#f03000"/>
<rect x="140.2" y="393.0" width="12.0" height="1.0" fill="#f03000"/>
<rect x="154.2" y="393.0" width="11.6" height="1.0" fill="#f03000"/>
<rect x="1" y="394.0" width="176" height="2.0" fill="#1038e8"/>
<rect x="112.6" y="394.0" width="53.2" height="2.0" fill="#60d8c0"/>
<rect x="112.6" y="394.0" width="11.6" height="2.0" fill="#ff5000"/>
<rect x="126.6" y="394.0" width="11.4" height="2.0" fill="#ff5000"/>
<rect x="140.2" y="394.0" width="12.0" height="2.0" fill="#ff5000"/>
<rect x="154.2" y="394.0" width="11.6" height="2.0" fill="#ff5000"/>
<rect x="165.8" y="394.0" width="11.2" height="2.0" fill="#1840e8"/>
<rect x="1" y="396.0" width="176" height="2.4" fill="#ffffff"/>
<rect x="1" y="398.4" width="176" height="1.6" fill="#48e0b0"/>
<rect x="112.6" y="398.4" width="53.2" height="1.6" fill="#60d8c0"/>
<rect x="112.6" y="398.4" width="11.6" height="1.6" fill="#ff5000"/>
<rect x="126.6" y="398.4" width="11.4" height="1.6" fill="#ff5000"/>
<rect x="140.2" y="398.4" width="12.0" height="1.6" fill="#ff5000"/>
<rect x="154.2" y="398.4" width="11.6" height="1.6" fill="#ff5000"/>
<rect x="165.8" y="398.4" width="11.2" height="1.6" fill="#60e8a0"/>
</g>
<rect x="0" y="0" width="1" height="641" fill="#fff"/>
<rect x="1" y="13" width="176" height="1.8" fill="#000"/>
<rect x="1" y="92" width="176" height="4.7" fill="#000"/>
<path d="M41.5 640v-5.5M41.5 1v5.5M82.5 640v-5.5M82.5 1v5.5M124.5 640v-5.5M124.5 1v5.5M165.5 640v-5.5M165.5 1v5.5M1 507.5h5.5M176 507.5h-5.5M1 373.5h5.5M176 373.5h-5.5M1 240.5h5.5M176 240.5h-5.5M1 107.5h5.5M176 107.5h-5.5" stroke="#000" stroke-width="0.75" fill="none"/>
<rect x="0.5" y="0.5" width="176" height="640" fill="none" stroke="#000" stroke-width="1" shape-rendering="crispEdges"/>
<g opacity="0.999">
<text x="0.4" y="656" font-size="12.8" text-anchor="middle" textLength="22.3" lengthAdjust="spacingAndGlyphs">320</text>
<text x="41.4" y="656" font-size="12.8" text-anchor="middle" textLength="22.3" lengthAdjust="spacingAndGlyphs">335</text>
<text x="82.4" y="656" font-size="12.8" text-anchor="middle" textLength="22.3" lengthAdjust="spacingAndGlyphs">350</text>
<text x="124.4" y="656" font-size="12.8" text-anchor="middle" textLength="22.3" lengthAdjust="spacingAndGlyphs">365</text>
<text x="165.4" y="656" font-size="12.8" text-anchor="middle" textLength="22.3" lengthAdjust="spacingAndGlyphs">380</text>
<text x="-4.3" y="644" font-size="12.8" text-anchor="end" textLength="7.0" lengthAdjust="spacingAndGlyphs">0</text>
<text x="-5.2" y="510" font-size="12.8" text-anchor="end" textLength="7.0" lengthAdjust="spacingAndGlyphs">5</text>
<text x="-4.3" y="377" font-size="12.8" text-anchor="end" textLength="14.7" lengthAdjust="spacingAndGlyphs">10</text>
<text x="-5.2" y="244" font-size="12.8" text-anchor="end" textLength="14.7" lengthAdjust="spacingAndGlyphs">15</text>
<text x="-4.3" y="110" font-size="12.8" text-anchor="end" textLength="14.7" lengthAdjust="spacingAndGlyphs">20</text>
<text x="88.7" y="-7.2" font-size="16.8" text-anchor="middle" textLength="191.8" lengthAdjust="spacingAndGlyphs">YY, V10*V14=EA01*EA17</text>
</g>
</g>
<g transform="translate(556,80)">
<g>
<rect x="1" y="266.7" width="176" height="373.2" fill="#0014fc"/>
<rect x="1" y="1" width="176" height="12" fill="#0014fc"/>
<rect x="1" y="266.7" width="176" height="373.2" fill="none" filter="url(#nzD)"/>
<rect x="1" y="1" width="176" height="12" fill="none" filter="url(#nzD)"/>
<rect x="1" y="266.7" width="176" height="373.2" fill="none" filter="url(#nzL)"/>
<rect x="1" y="1" width="176" height="12" fill="none" filter="url(#nzL)"/>
<rect x="112.6" y="1" width="11.6" height="12" fill="#00f0ff"/>
<rect x="112.6" y="1" width="11.6" height="12" fill="none" filter="url(#nzB)"/>
<rect x="112.6" y="1" width="11.6" height="12" fill="none" filter="url(#nzG)"/>
<rect x="126.6" y="1" width="11.4" height="12" fill="#24ffdb"/>
<rect x="126.6" y="1" width="11.4" height="12" fill="none" filter="url(#nzB)"/>
<rect x="126.6" y="1" width="11.4" height="12" fill="none" filter="url(#nzG)"/>
<rect x="140.2" y="1" width="12.0" height="12" fill="#00faff"/>
<rect x="140.2" y="1" width="12.0" height="12" fill="none" filter="url(#nzB)"/>
<rect x="140.2" y="1" width="12.0" height="12" fill="none" filter="url(#nzG)"/>
<rect x="154.2" y="1" width="11.6" height="12" fill="#0080ff"/>
<rect x="154.2" y="1" width="11.6" height="12" fill="none" filter="url(#nzB)"/>
<rect x="154.2" y="1" width="11.6" height="12" fill="none" filter="url(#nzG)"/>
<rect x="112.6" y="266.0" width="53.2" height="27.0" fill="#00b2ff"/>
<rect x="112.6" y="293.0" width="53.2" height="12.0" fill="#24ffdb"/>
<rect x="112.6" y="305.0" width="53.2" height="15.0" fill="#c7ff38"/>
<rect x="112.6" y="320.0" width="53.2" height="10.0" fill="#9eff61"/>
<rect x="112.6" y="330.0" width="53.2" height="13.0" fill="#52ffad"/>
<rect x="112.6" y="343.0" width="53.2" height="15.0" fill="#9eff61"/>
<rect x="112.6" y="358.0" width="53.2" height="2.0" fill="#fffa00"/>
<rect x="112.6" y="360.0" width="53.2" height="6.0" fill="#ffbd00"/>
<rect x="112.6" y="366.0" width="53.2" height="3.0" fill="#ff9e00"/>
<rect x="112.6" y="369.0" width="53.2" height="8.0" fill="#42ffbd"/>
<rect x="112.6" y="398.8" width="53.2" height="7.2" fill="#75ff8a"/>
<rect x="112.6" y="406.0" width="53.2" height="8.0" fill="#9eff61"/>
<rect x="112.6" y="414.0" width="53.2" height="12.0" fill="#05fffa"/>
<rect x="112.6" y="426.0" width="53.2" height="25.0" fill="#0094ff"/>
<rect x="112.6" y="451.0" width="53.2" height="9.0" fill="#004dff"/>
<rect x="112.6" y="460.0" width="53.2" height="7.0" fill="#0075ff"/>
<rect x="112.6" y="467.0" width="53.2" height="53.0" fill="#00d1ff"/>
<rect x="112.6" y="520.0" width="53.2" height="60.0" fill="#0094ff"/>
<rect x="112.6" y="580.0" width="53.2" height="60.0" fill="#00a8ff"/>
<rect x="112.6" y="266.0" width="53.2" height="39.0" fill="none" filter="url(#nzB)"/>
<rect x="112.6" y="266.0" width="53.2" height="39.0" fill="none" filter="url(#nzG)"/>
<rect x="112.6" y="305.0" width="53.2" height="25.0" fill="none" filter="url(#nzB2)"/>
<rect x="112.6" y="305.0" width="53.2" height="25.0" fill="none" filter="url(#nzG)"/>
<rect x="112.6" y="330.0" width="53.2" height="13.0" fill="none" filter="url(#nzB)"/>
<rect x="112.6" y="330.0" width="53.2" height="13.0" fill="none" filter="url(#nzG)"/>
<rect x="112.6" y="343.0" width="53.2" height="26.0" fill="none" filter="url(#nzB2)"/>
<rect x="112.6" y="343.0" width="53.2" height="26.0" fill="none" filter="url(#nzG)"/>
<rect x="112.6" y="369.0" width="53.2" height="8.0" fill="none" filter="url(#nzB)"/>
<rect x="112.6" y="369.0" width="53.2" height="8.0" fill="none" filter="url(#nzG)"/>
<rect x="112.6" y="398.8" width="53.2" height="15.2" fill="none" filter="url(#nzB2)"/>
<rect x="112.6" y="398.8" width="53.2" height="15.2" fill="none" filter="url(#nzG)"/>
<rect x="112.6" y="414.0" width="53.2" height="226.0" fill="none" filter="url(#nzB)"/>
<rect x="112.6" y="414.0" width="53.2" height="226.0" fill="none" filter="url(#nzG)"/>
<rect x="126.6" y="399" width="11.4" height="241" fill="#0050ff" opacity="0.05"/>
<rect x="140.2" y="399" width="12.0" height="241" fill="#0050ff" opacity="0.2"/>
<rect x="154.2" y="399" width="11.6" height="241" fill="#0050ff" opacity="0.28"/>
<rect x="124.4" y="266.7" width="2.0" height="373.2" fill="#0030ff" opacity="0.62"/>
<rect x="138.2" y="266.7" width="1.8" height="373.2" fill="#0030ff" opacity="0.62"/>
<rect x="152.3" y="266.7" width="1.7" height="373.2" fill="#0030ff" opacity="0.62"/>
<rect x="112.6" y="451.9" width="11.6" height="1" fill="#c81000"/>
<rect x="112.6" y="451.2" width="11.6" height="0.7" fill="#f0d020"/>
<rect x="126.6" y="451.9" width="11.4" height="1" fill="#c81000"/>
<rect x="126.6" y="451.2" width="11.4" height="0.7" fill="#f0d020"/>
<rect x="140.2" y="451.9" width="12.0" height="1" fill="#c81000"/>
<rect x="140.2" y="451.2" width="12.0" height="0.7" fill="#f0d020"/>
<rect x="154.2" y="451.9" width="11.6" height="1" fill="#c81000"/>
<rect x="154.2" y="451.2" width="11.6" height="0.7" fill="#f0d020"/>
<rect x="46.6" y="558" width="12" height="10" fill="url(#halo)"/><rect x="51.8" y="559.5" width="1.7" height="6.5" fill="#f0e010"/>
<rect x="94.4" y="558" width="12" height="9" fill="url(#halo)"/><rect x="99.8" y="558" width="1.2" height="8" fill="#f02000"/><rect x="96.4" y="548.6" width="8" height="1.6" fill="url(#halo)"/><rect x="99.8" y="549" width="1.2" height="1" fill="#f02000"/>
<rect x="1" y="268.1" width="176" height="0.8" fill="#fff"/>
<rect x="1" y="269" width="176" height="1" fill="#000"/>
<rect x="1" y="270.0" width="176" height="2.0" fill="#fff"/>
<rect x="1" y="283.9" width="176" height="1.4" fill="#fff"/>
<rect x="1" y="290.8" width="176" height="1.3" fill="#fff"/>
<rect x="1" y="293.9" width="176" height="1.1" fill="#fff"/>
<rect x="1" y="299.9" width="176" height="3.1" fill="#fff"/>
<rect x="1" y="304.0" width="176" height="1.2" fill="#fff"/>
<rect x="1" y="305" width="176" height="1" fill="#000"/>
<rect x="1" y="308" width="176" height="1" fill="#000"/>
<rect x="1" y="312" width="176" height="1" fill="#000"/>
<rect x="1" y="319.0" width="176" height="4.2" fill="#fff"/>
<rect x="1" y="323" width="176" height="1" fill="#000"/>
<rect x="1" y="324.8" width="176" height="1.2" fill="#fff"/>
<rect x="1" y="329" width="176" height="1" fill="#000"/>
<rect x="1" y="334.8" width="176" height="1.4" fill="#fff"/>
<rect x="1" y="342.8" width="176" height="5.2" fill="#fff"/>
<rect x="1" y="349.0" width="176" height="1.0" fill="#fff"/>
<rect x="1" y="350.5" width="176" height="1.5" fill="#fff"/>
<rect x="1" y="359.8" width="176" height="1.4" fill="#fff"/>
<rect x="1" y="363.0" width="176" height="1.2" fill="#fff"/>
<rect x="1" y="365.0" width="176" height="1.0" fill="#fff"/>
<rect x="1" y="366" width="176" height="1" fill="#000"/>
<rect x="1" y="366.8" width="176" height="1.2" fill="#fff"/>
<rect x="1" y="370.0" width="176" height="2.0" fill="#fff"/>
<rect x="1" y="373.2" width="176" height="0.8" fill="#fff"/>
<rect x="1" y="374.0" width="176" height="1.8" fill="#000"/>
<rect x="1" y="375.8" width="176" height="2.0" fill="#fff"/>
<rect x="1" y="379.0" width="176" height="4.0" fill="#fff"/>
<rect x="1" y="387.0" width="176" height="1.0" fill="#fff"/>
<rect x="1" y="405.8" width="176" height="1.4" fill="#fff"/>
<rect x="1" y="407.2" width="176" height="1.4" fill="#000"/>
<rect x="1" y="410.0" width="176" height="2.0" fill="#fff"/>
<rect x="1" y="413.8" width="176" height="2.2" fill="#fff"/>
<rect x="1" y="419.8" width="176" height="1.2" fill="#fff"/>
<rect x="1" y="425.0" width="176" height="6.0" fill="#fff"/>
<rect x="1" y="432.8" width="176" height="2.0" fill="#fff"/>
<rect x="1" y="436.0" width="176" height="2.0" fill="#fff"/>
<rect x="1" y="441.0" width="176" height="1.0" fill="#fff"/>
<rect x="1" y="443" width="176" height="1" fill="#000"/>
<rect x="1" y="445.8" width="176" height="1.2" fill="#fff"/>
<rect x="1" y="448.0" width="176" height="2.8" fill="#fff"/>
<rect x="1" y="453" width="176" height="1" fill="#000"/>
<rect x="1" y="458.8" width="176" height="4.0" fill="#fff"/>
<rect x="1" y="464.0" width="176" height="3.0" fill="#fff"/>
<rect x="1" y="473" width="176" height="1" fill="#000"/>
<rect x="1" y="477.0" width="176" height="1.0" fill="#fff"/>
<rect x="1" y="479.0" width="176" height="1.0" fill="#fff"/>
<rect x="1" y="481.8" width="176" height="1.2" fill="#fff"/>
<rect x="1" y="484.8" width="176" height="1.2" fill="#fff"/>
<rect x="1" y="488.0" width="176" height="1.0" fill="#fff"/>
<rect x="1" y="497.0" width="176" height="1.2" fill="#fff"/>
<rect x="1" y="504.0" width="176" height="1.0" fill="#fff"/>
<rect x="1" y="506.8" width="176" height="1.2" fill="#fff"/>
<rect x="1" y="508.8" width="176" height="2.2" fill="#fff"/>
<rect x="1" y="512.0" width="176" height="1.0" fill="#fff"/>
<rect x="1" y="521.8" width="176" height="2.0" fill="#fff"/>
<rect x="1" y="524" width="176" height="1" fill="#000"/>
<rect x="1" y="525.0" width="176" height="0.8" fill="#fff"/>
<rect x="1" y="534.8" width="176" height="6.2" fill="#fff"/>
<rect x="1" y="542.0" width="176" height="1.0" fill="#fff"/>
<rect x="1" y="544.8" width="176" height="1.2" fill="#fff"/>
<rect x="1" y="547.0" width="176" height="2.0" fill="#fff"/>
<rect x="1" y="550.0" width="176" height="7.0" fill="#fff"/>
<rect x="1" y="557" width="176" height="1" fill="#000"/>
<rect x="1" y="559.2" width="176" height="1.0" fill="#fff"/>
<rect x="1" y="562.0" width="176" height="1.0" fill="#fff"/>
<rect x="1" y="566.0" width="176" height="1.0" fill="#fff"/>
<rect x="1" y="568.0" width="176" height="1.0" fill="#fff"/>
<rect x="1" y="573.0" width="176" height="1.0" fill="#fff"/>
<rect x="1" y="576.0" width="176" height="1.0" fill="#fff"/>
<rect x="1" y="577" width="176" height="1" fill="#000"/>
<rect x="1" y="581.0" width="176" height="6.0" fill="#fff"/>
<rect x="1" y="588.0" width="176" height="1.0" fill="#fff"/>
<rect x="1" y="590.0" width="176" height="5.0" fill="#fff"/>
<rect x="1" y="599.8" width="176" height="1.2" fill="#fff"/>
<rect x="1" y="606.8" width="176" height="1.2" fill="#fff"/>
<rect x="1" y="625.0" width="176" height="1.0" fill="#fff"/>
<rect x="1" y="627.8" width="176" height="1.2" fill="#fff"/>
<rect x="1" y="634.0" width="176" height="2.0" fill="#fff"/>
<rect x="1" y="638.0" width="176" height="1.8" fill="#fff"/>
<rect x="1" y="377.8" width="176" height="1.4" fill="url(#hgH)"/>
<rect x="112.6" y="377.8" width="53.2" height="1.4" fill="#f0e040"/>
<rect x="112.6" y="377.8" width="11.6" height="1.4" fill="#ffb000"/>
<rect x="126.6" y="377.8" width="11.4" height="1.4" fill="#ffb000"/>
<rect x="140.2" y="377.8" width="12.0" height="1.4" fill="#ffb000"/>
<rect x="154.2" y="377.8" width="11.6" height="1.4" fill="#ffb000"/>
<rect x="165.8" y="377.8" width="11.2" height="1.4" fill="#c0f040"/>
<rect x="1" y="379.2" width="176" height="3.6" fill="#ffffff"/>
<rect x="1" y="382.8" width="176" height="1.0" fill="#ffc800"/>
<rect x="112.6" y="382.8" width="53.2" height="1.0" fill="#ffd040"/>
<rect x="112.6" y="382.8" width="11.6" height="1.0" fill="#f03000"/>
<rect x="126.6" y="382.8" width="11.4" height="1.0" fill="#f03000"/>
<rect x="140.2" y="382.8" width="12.0" height="1.0" fill="#f03000"/>
<rect x="154.2" y="382.8" width="11.6" height="1.0" fill="#f03000"/>
<rect x="165.8" y="382.8" width="11.2" height="1.0" fill="#ffa000"/>
<rect x="1" y="383.8" width="176" height="1.4" fill="#48c8d8"/>
<rect x="112.6" y="383.8" width="53.2" height="1.4" fill="#ffe060"/>
<rect x="112.6" y="383.8" width="11.6" height="1.4" fill="#f02000"/>
<rect x="126.6" y="383.8" width="11.4" height="1.4" fill="#f02000"/>
<rect x="140.2" y="383.8" width="12.0" height="1.4" fill="#f02000"/>
<rect x="154.2" y="383.8" width="11.6" height="1.4" fill="#f02000"/>
<rect x="165.8" y="383.8" width="11.2" height="1.4" fill="#48c8e0"/>
<rect x="1" y="385.2" width="176" height="1.6" fill="#ffa000"/>
<rect x="112.6" y="385.2" width="53.2" height="1.6" fill="#ff6000"/>
<rect x="112.6" y="385.2" width="11.6" height="1.6" fill="#e81000"/>
<rect x="126.6" y="385.2" width="11.4" height="1.6" fill="#e81000"/>
<rect x="140.2" y="385.2" width="12.0" height="1.6" fill="#e81000"/>
<rect x="154.2" y="385.2" width="11.6" height="1.6" fill="#e81000"/>
<rect x="1" y="386.8" width="176" height="1.2" fill="#fff8e0"/>
<rect x="112.6" y="386.8" width="53.2" height="1.2" fill="#ffffff"/>
<rect x="165.8" y="386.8" width="11.2" height="1.2" fill="#ffffff"/>
<rect x="1" y="388.0" width="176" height="1.8" fill="url(#hgG)"/>
<rect x="112.6" y="388.0" width="53.2" height="1.8" fill="#ff5000"/>
<rect x="112.6" y="388.0" width="11.6" height="1.8" fill="#c00000"/>
<rect x="126.6" y="388.0" width="11.4" height="1.8" fill="#c00000"/>
<rect x="140.2" y="388.0" width="12.0" height="1.8" fill="#c00000"/>
<rect x="154.2" y="388.0" width="11.6" height="1.8" fill="#c00000"/>
<rect x="165.8" y="388.0" width="11.2" height="1.8" fill="#ffc000"/>
<rect x="1" y="389.8" width="176" height="1.0" fill="#1020c8"/>
<rect x="112.6" y="389.8" width="53.2" height="1.0" fill="#60d0c0"/>
<rect x="112.6" y="389.8" width="11.6" height="1.0" fill="#ffb030"/>
<rect x="126.6" y="389.8" width="11.4" height="1.0" fill="#ffb030"/>
<rect x="140.2" y="389.8" width="12.0" height="1.0" fill="#ffb030"/>
<rect x="154.2" y="389.8" width="11.6" height="1.0" fill="#ffb030"/>
<rect x="165.8" y="389.8" width="11.2" height="1.0" fill="#2050e8"/>
<rect x="1" y="390.8" width="176" height="1.2" fill="#ff9800"/>
<rect x="112.6" y="390.8" width="53.2" height="1.2" fill="#ffb000"/>
<rect x="112.6" y="390.8" width="11.6" height="1.2" fill="#e81800"/>
<rect x="126.6" y="390.8" width="11.4" height="1.2" fill="#e81800"/>
<rect x="140.2" y="390.8" width="12.0" height="1.2" fill="#e81800"/>
<rect x="154.2" y="390.8" width="11.6" height="1.2" fill="#e81800"/>
<rect x="1" y="392.0" width="176" height="1.0" fill="#1838e0"/>
<rect x="112.6" y="392.0" width="53.2" height="1.0" fill="#80e0a0"/>
<rect x="112.6" y="392.0" width="11.6" height="1.0" fill="#f03000"/>
<rect x="126.6" y="392.0" width="11.4" height="1.0" fill="#f03000"/>
<rect x="140.2" y="392.0" width="12.0" height="1.0" fill="#f03000"/>
<rect x="154.2" y="392.0" width="11.6" height="1.0" fill="#f03000"/>
<rect x="165.8" y="392.0" width="11.2" height="1.0" fill="#40c0e0"/>
<rect x="1" y="393.0" width="176" height="1.0" fill="#ffe000"/>
<rect x="112.6" y="393.0" width="53.2" height="1.0" fill="#ffa000"/>
<rect x="112.6" y="393.0" width="11.6" height="1.0" fill="#ff4000"/>
<rect x="126.6" y="393.0" width="11.4" height="1.0" fill="#ff4000"/>
<rect x="140.2" y="393.0" width="12.0" height="1.0" fill="#ff4000"/>
<rect x="154.2" y="393.0" width="11.6" height="1.0" fill="#ff4000"/>
<rect x="165.8" y="393.0" width="11.2" height="1.0" fill="#d0f040"/>
<rect x="1" y="394.0" width="176" height="2.0" fill="#1038e8"/>
<rect x="112.6" y="394.0" width="53.2" height="2.0" fill="#60d8c0"/>
<rect x="112.6" y="394.0" width="11.6" height="2.0" fill="#ff5800"/>
<rect x="126.6" y="394.0" width="11.4" height="2.0" fill="#ff5800"/>
<rect x="140.2" y="394.0" width="12.0" height="2.0" fill="#ff5800"/>
<rect x="154.2" y="394.0" width="11.6" height="2.0" fill="#ff5800"/>
<rect x="165.8" y="394.0" width="11.2" height="2.0" fill="#2060e8"/>
<rect x="1" y="396.0" width="176" height="2.2" fill="#ffffff"/>
<rect x="1" y="398.2" width="176" height="1.2" fill="#1848e8"/>
<rect x="112.6" y="398.2" width="53.2" height="1.2" fill="#60d8c0"/>
<rect x="112.6" y="398.2" width="11.6" height="1.2" fill="#ff4800"/>
<rect x="126.6" y="398.2" width="11.4" height="1.2" fill="#ff4800"/>
<rect x="140.2" y="398.2" width="12.0" height="1.2" fill="#ff4800"/>
<rect x="154.2" y="398.2" width="11.6" height="1.2" fill="#ff4800"/>
<rect x="165.8" y="398.2" width="11.2" height="1.2" fill="#30a0e8"/>
</g>
<rect x="1" y="13" width="176" height="1.8" fill="#000"/>
<rect x="1" y="92" width="176" height="4.7" fill="#000"/>
<path d="M42.5 640v-5.5M42.5 1v5.5M83.5 640v-5.5M83.5 1v5.5M125.5 640v-5.5M125.5 1v5.5M166.5 640v-5.5M166.5 1v5.5M1 507.5h5.5M177 507.5h-5.5M1 373.5h5.5M177 373.5h-5.5M1 240.5h5.5M177 240.5h-5.5M1 107.5h5.5M177 107.5h-5.5" stroke="#000" stroke-width="0.75" fill="none"/>
<rect x="0.5" y="0.5" width="177" height="640" fill="none" stroke="#000" stroke-width="1" shape-rendering="crispEdges"/>
<g opacity="0.999">
<text x="0.4" y="656" font-size="12.8" text-anchor="middle" textLength="22.3" lengthAdjust="spacingAndGlyphs">320</text>
<text x="42.4" y="656" font-size="12.8" text-anchor="middle" textLength="22.3" lengthAdjust="spacingAndGlyphs">335</text>
<text x="83.4" y="656" font-size="12.8" text-anchor="middle" textLength="22.3" lengthAdjust="spacingAndGlyphs">350</text>
<text x="125.4" y="656" font-size="12.8" text-anchor="middle" textLength="22.3" lengthAdjust="spacingAndGlyphs">365</text>
<text x="166.4" y="656" font-size="12.8" text-anchor="middle" textLength="22.3" lengthAdjust="spacingAndGlyphs">380</text>
<text x="-4.3" y="644" font-size="12.8" text-anchor="end" textLength="7.0" lengthAdjust="spacingAndGlyphs">0</text>
<text x="-5.2" y="510" font-size="12.8" text-anchor="end" textLength="7.0" lengthAdjust="spacingAndGlyphs">5</text>
<text x="-4.3" y="377" font-size="12.8" text-anchor="end" textLength="14.7" lengthAdjust="spacingAndGlyphs">10</text>
<text x="-5.2" y="244" font-size="12.8" text-anchor="end" textLength="14.7" lengthAdjust="spacingAndGlyphs">15</text>
<text x="-4.3" y="110" font-size="12.8" text-anchor="end" textLength="14.7" lengthAdjust="spacingAndGlyphs">20</text>
<text x="88.7" y="-7.2" font-size="16.8" text-anchor="middle" textLength="192.9" lengthAdjust="spacingAndGlyphs">XY, V10*V14=EA01*EA17</text>
</g>
</g>
<g transform="translate(768,80)">
<g>
<rect x="1" y="266.7" width="176" height="373.2" fill="#0014fc"/>
<rect x="1" y="1" width="176" height="12" fill="#0014fc"/>
<rect x="1" y="266.7" width="176" height="373.2" fill="none" filter="url(#nzD)"/>
<rect x="1" y="1" width="176" height="12" fill="none" filter="url(#nzD)"/>
<rect x="1" y="266.7" width="176" height="373.2" fill="none" filter="url(#nzL)"/>
<rect x="1" y="1" width="176" height="12" fill="none" filter="url(#nzL)"/>
<rect x="112.6" y="1" width="11.6" height="12" fill="#00f0ff"/>
<rect x="112.6" y="1" width="11.6" height="12" fill="none" filter="url(#nzB)"/>
<rect x="112.6" y="1" width="11.6" height="12" fill="none" filter="url(#nzG)"/>
<rect x="126.6" y="1" width="11.4" height="12" fill="#24ffdb"/>
<rect x="126.6" y="1" width="11.4" height="12" fill="none" filter="url(#nzB)"/>
<rect x="126.6" y="1" width="11.4" height="12" fill="none" filter="url(#nzG)"/>
<rect x="140.2" y="1" width="12.0" height="12" fill="#00faff"/>
<rect x="140.2" y="1" width="12.0" height="12" fill="none" filter="url(#nzB)"/>
<rect x="140.2" y="1" width="12.0" height="12" fill="none" filter="url(#nzG)"/>
<rect x="154.2" y="1" width="11.6" height="12" fill="#0080ff"/>
<rect x="154.2" y="1" width="11.6" height="12" fill="none" filter="url(#nzB)"/>
<rect x="154.2" y="1" width="11.6" height="12" fill="none" filter="url(#nzG)"/>
<rect x="112.6" y="266.0" width="53.2" height="27.0" fill="#00b2ff"/>
<rect x="112.6" y="293.0" width="53.2" height="12.0" fill="#24ffdb"/>
<rect x="112.6" y="305.0" width="53.2" height="15.0" fill="#c7ff38"/>
<rect x="112.6" y="320.0" width="53.2" height="10.0" fill="#9eff61"/>
<rect x="112.6" y="330.0" width="53.2" height="13.0" fill="#52ffad"/>
<rect x="112.6" y="343.0" width="53.2" height="15.0" fill="#9eff61"/>
<rect x="112.6" y="358.0" width="53.2" height="2.0" fill="#fffa00"/>
<rect x="112.6" y="360.0" width="53.2" height="6.0" fill="#ffbd00"/>
<rect x="112.6" y="366.0" width="53.2" height="3.0" fill="#ff9e00"/>
<rect x="112.6" y="369.0" width="53.2" height="8.0" fill="#42ffbd"/>
<rect x="112.6" y="398.8" width="53.2" height="7.2" fill="#75ff8a"/>
<rect x="112.6" y="406.0" width="53.2" height="8.0" fill="#9eff61"/>
<rect x="112.6" y="414.0" width="53.2" height="12.0" fill="#05fffa"/>
<rect x="112.6" y="426.0" width="53.2" height="25.0" fill="#0094ff"/>
<rect x="112.6" y="451.0" width="53.2" height="9.0" fill="#004dff"/>
<rect x="112.6" y="460.0" width="53.2" height="7.0" fill="#0075ff"/>
<rect x="112.6" y="467.0" width="53.2" height="53.0" fill="#1affe5"/>
<rect x="112.6" y="520.0" width="53.2" height="60.0" fill="#00b2ff"/>
<rect x="112.6" y="580.0" width="53.2" height="60.0" fill="#00bdff"/>
<rect x="112.6" y="266.0" width="53.2" height="39.0" fill="none" filter="url(#nzB)"/>
<rect x="112.6" y="266.0" width="53.2" height="39.0" fill="none" filter="url(#nzG)"/>
<rect x="112.6" y="305.0" width="53.2" height="25.0" fill="none" filter="url(#nzB2)"/>
<rect x="112.6" y="305.0" width="53.2" height="25.0" fill="none" filter="url(#nzG)"/>
<rect x="112.6" y="330.0" width="53.2" height="13.0" fill="none" filter="url(#nzB)"/>
<rect x="112.6" y="330.0" width="53.2" height="13.0" fill="none" filter="url(#nzG)"/>
<rect x="112.6" y="343.0" width="53.2" height="26.0" fill="none" filter="url(#nzB2)"/>
<rect x="112.6" y="343.0" width="53.2" height="26.0" fill="none" filter="url(#nzG)"/>
<rect x="112.6" y="369.0" width="53.2" height="8.0" fill="none" filter="url(#nzB)"/>
<rect x="112.6" y="369.0" width="53.2" height="8.0" fill="none" filter="url(#nzG)"/>
<rect x="112.6" y="398.8" width="53.2" height="15.2" fill="none" filter="url(#nzB2)"/>
<rect x="112.6" y="398.8" width="53.2" height="15.2" fill="none" filter="url(#nzG)"/>
<rect x="112.6" y="414.0" width="53.2" height="226.0" fill="none" filter="url(#nzB)"/>
<rect x="112.6" y="414.0" width="53.2" height="226.0" fill="none" filter="url(#nzG)"/>
<rect x="140.2" y="399" width="12.0" height="241" fill="#0050ff" opacity="0.15"/>
<rect x="154.2" y="399" width="11.6" height="241" fill="#0050ff" opacity="0.22"/>
<rect x="124.4" y="266.7" width="2.0" height="373.2" fill="#0030ff" opacity="0.62"/>
<rect x="138.2" y="266.7" width="1.8" height="373.2" fill="#0030ff" opacity="0.62"/>
<rect x="152.3" y="266.7" width="1.7" height="373.2" fill="#0030ff" opacity="0.62"/>
<rect x="112.6" y="451.9" width="11.6" height="1" fill="#c81000"/>
<rect x="112.6" y="451.2" width="11.6" height="0.7" fill="#f0d020"/>
<rect x="126.6" y="451.9" width="11.4" height="1" fill="#c81000"/>
<rect x="126.6" y="451.2" width="11.4" height="0.7" fill="#f0d020"/>
<rect x="140.2" y="451.9" width="12.0" height="1" fill="#c81000"/>
<rect x="140.2" y="451.2" width="12.0" height="0.7" fill="#f0d020"/>
<rect x="154.2" y="451.9" width="11.6" height="1" fill="#c81000"/>
<rect x="154.2" y="451.2" width="11.6" height="0.7" fill="#f0d020"/>
<rect x="46.6" y="558" width="12" height="10" fill="url(#halo)"/><rect x="51.8" y="559.5" width="1.7" height="6.5" fill="#f0e010"/>
<rect x="94.4" y="558" width="12" height="9" fill="url(#halo)"/><rect x="99.8" y="558" width="1.2" height="8" fill="#f02000"/><rect x="96.4" y="548.6" width="8" height="1.6" fill="url(#halo)"/><rect x="99.8" y="549" width="1.2" height="1" fill="#f02000"/>
<rect x="1" y="268.1" width="176" height="0.8" fill="#fff"/>
<rect x="1" y="269" width="176" height="1" fill="#000"/>
<rect x="1" y="270.0" width="176" height="2.0" fill="#fff"/>
<rect x="1" y="283.9" width="176" height="1.4" fill="#fff"/>
<rect x="1" y="290.8" width="176" height="1.3" fill="#fff"/>
<rect x="1" y="293.9" width="176" height="1.1" fill="#fff"/>
<rect x="1" y="299.9" width="176" height="3.1" fill="#fff"/>
<rect x="1" y="304.0" width="176" height="1.2" fill="#fff"/>
<rect x="1" y="305" width="176" height="1" fill="#000"/>
<rect x="1" y="308" width="176" height="1" fill="#000"/>
<rect x="1" y="312" width="176" height="1" fill="#000"/>
<rect x="1" y="319.0" width="176" height="4.2" fill="#fff"/>
<rect x="1" y="323" width="176" height="1" fill="#000"/>
<rect x="1" y="324.8" width="176" height="1.2" fill="#fff"/>
<rect x="1" y="329" width="176" height="1" fill="#000"/>
<rect x="1" y="334.8" width="176" height="1.4" fill="#fff"/>
<rect x="1" y="342.8" width="176" height="5.2" fill="#fff"/>
<rect x="1" y="349.0" width="176" height="1.0" fill="#fff"/>
<rect x="1" y="350.5" width="176" height="1.5" fill="#fff"/>
<rect x="1" y="359.8" width="176" height="1.4" fill="#fff"/>
<rect x="1" y="363.0" width="176" height="1.2" fill="#fff"/>
<rect x="1" y="365.0" width="176" height="1.0" fill="#fff"/>
<rect x="1" y="366" width="176" height="1" fill="#000"/>
<rect x="1" y="366.8" width="176" height="1.2" fill="#fff"/>
<rect x="1" y="370.0" width="176" height="2.0" fill="#fff"/>
<rect x="1" y="373.2" width="176" height="0.8" fill="#fff"/>
<rect x="1" y="374.0" width="176" height="1.8" fill="#000"/>
<rect x="1" y="375.8" width="176" height="2.0" fill="#fff"/>
<rect x="1" y="379.0" width="176" height="4.0" fill="#fff"/>
<rect x="1" y="387.0" width="176" height="1.0" fill="#fff"/>
<rect x="1" y="405.8" width="176" height="1.4" fill="#fff"/>
<rect x="1" y="407.2" width="176" height="1.4" fill="#000"/>
<rect x="1" y="410.0" width="176" height="2.0" fill="#fff"/>
<rect x="1" y="413.8" width="176" height="2.2" fill="#fff"/>
<rect x="1" y="419.8" width="176" height="1.2" fill="#fff"/>
<rect x="1" y="425.0" width="176" height="6.0" fill="#fff"/>
<rect x="1" y="432.8" width="176" height="2.0" fill="#fff"/>
<rect x="1" y="436.0" width="176" height="2.0" fill="#fff"/>
<rect x="1" y="441.0" width="176" height="1.0" fill="#fff"/>
<rect x="1" y="443" width="176" height="1" fill="#000"/>
<rect x="1" y="445.8" width="176" height="1.2" fill="#fff"/>
<rect x="1" y="448.0" width="176" height="2.8" fill="#fff"/>
<rect x="1" y="453" width="176" height="1" fill="#000"/>
<rect x="1" y="458.8" width="176" height="4.0" fill="#fff"/>
<rect x="1" y="464.0" width="176" height="3.0" fill="#fff"/>
<rect x="1" y="473" width="176" height="1" fill="#000"/>
<rect x="1" y="477.0" width="176" height="1.0" fill="#fff"/>
<rect x="1" y="479.0" width="176" height="1.0" fill="#fff"/>
<rect x="1" y="481.8" width="176" height="1.2" fill="#fff"/>
<rect x="1" y="484.8" width="176" height="1.2" fill="#fff"/>
<rect x="1" y="488.0" width="176" height="1.0" fill="#fff"/>
<rect x="1" y="497.0" width="176" height="1.2" fill="#fff"/>
<rect x="1" y="504.0" width="176" height="1.0" fill="#fff"/>
<rect x="1" y="506.8" width="176" height="1.2" fill="#fff"/>
<rect x="1" y="508.8" width="176" height="2.2" fill="#fff"/>
<rect x="1" y="512.0" width="176" height="1.0" fill="#fff"/>
<rect x="1" y="521.8" width="176" height="2.0" fill="#fff"/>
<rect x="1" y="524" width="176" height="1" fill="#000"/>
<rect x="1" y="525.0" width="176" height="0.8" fill="#fff"/>
<rect x="1" y="534.8" width="176" height="6.2" fill="#fff"/>
<rect x="1" y="542.0" width="176" height="1.0" fill="#fff"/>
<rect x="1" y="544.8" width="176" height="1.2" fill="#fff"/>
<rect x="1" y="547.0" width="176" height="2.0" fill="#fff"/>
<rect x="1" y="550.0" width="176" height="7.0" fill="#fff"/>
<rect x="1" y="557" width="176" height="1" fill="#000"/>
<rect x="1" y="559.2" width="176" height="1.0" fill="#fff"/>
<rect x="1" y="562.0" width="176" height="1.0" fill="#fff"/>
<rect x="1" y="566.0" width="176" height="1.0" fill="#fff"/>
<rect x="1" y="568.0" width="176" height="1.0" fill="#fff"/>
<rect x="1" y="573.0" width="176" height="1.0" fill="#fff"/>
<rect x="1" y="576.0" width="176" height="1.0" fill="#fff"/>
<rect x="1" y="577" width="176" height="1" fill="#000"/>
<rect x="1" y="581.0" width="176" height="6.0" fill="#fff"/>
<rect x="1" y="588.0" width="176" height="1.0" fill="#fff"/>
<rect x="1" y="590.0" width="176" height="5.0" fill="#fff"/>
<rect x="1" y="599.8" width="176" height="1.2" fill="#fff"/>
<rect x="1" y="606.8" width="176" height="1.2" fill="#fff"/>
<rect x="1" y="625.0" width="176" height="1.0" fill="#fff"/>
<rect x="1" y="627.8" width="176" height="1.2" fill="#fff"/>
<rect x="1" y="634.0" width="176" height="2.0" fill="#fff"/>
<rect x="1" y="638.0" width="176" height="1.8" fill="#fff"/>
<rect x="1" y="377.8" width="176" height="1.4" fill="#ffa000"/>
<rect x="112.6" y="377.8" width="53.2" height="1.4" fill="#ff9000"/>
<rect x="112.6" y="377.8" width="11.6" height="1.4" fill="#ff7000"/>
<rect x="126.6" y="377.8" width="11.4" height="1.4" fill="#ff7000"/>
<rect x="140.2" y="377.8" width="12.0" height="1.4" fill="#ff7000"/>
<rect x="154.2" y="377.8" width="11.6" height="1.4" fill="#ff7000"/>
<rect x="1" y="379.2" width="176" height="3.6" fill="#ffffff"/>
<rect x="1" y="382.8" width="176" height="1.0" fill="#ffc800"/>
<rect x="112.6" y="382.8" width="53.2" height="1.0" fill="#ffd040"/>
<rect x="112.6" y="382.8" width="11.6" height="1.0" fill="#f03000"/>
<rect x="126.6" y="382.8" width="11.4" height="1.0" fill="#f03000"/>
<rect x="140.2" y="382.8" width="12.0" height="1.0" fill="#f03000"/>
<rect x="154.2" y="382.8" width="11.6" height="1.0" fill="#f03000"/>
<rect x="165.8" y="382.8" width="11.2" height="1.0" fill="#ffa000"/>
<rect x="1" y="383.8" width="176" height="1.4" fill="#40d0d0"/>
<rect x="112.6" y="383.8" width="53.2" height="1.4" fill="#ffe060"/>
<rect x="112.6" y="383.8" width="11.6" height="1.4" fill="#f02000"/>
<rect x="126.6" y="383.8" width="11.4" height="1.4" fill="#f02000"/>
<rect x="140.2" y="383.8" width="12.0" height="1.4" fill="#f02000"/>
<rect x="154.2" y="383.8" width="11.6" height="1.4" fill="#f02000"/>
<rect x="165.8" y="383.8" width="11.2" height="1.4" fill="#48c8e0"/>
<rect x="1" y="385.2" width="176" height="1.8" fill="#ffa000"/>
<rect x="112.6" y="385.2" width="53.2" height="1.8" fill="#ff6000"/>
<rect x="112.6" y="385.2" width="11.6" height="1.8" fill="#e81000"/>
<rect x="126.6" y="385.2" width="11.4" height="1.8" fill="#e81000"/>
<rect x="140.2" y="385.2" width="12.0" height="1.8" fill="#e81000"/>
<rect x="154.2" y="385.2" width="11.6" height="1.8" fill="#e81000"/>
<rect x="1" y="387.0" width="176" height="0.8" fill="#ffffc0"/>
<rect x="112.6" y="387.0" width="53.2" height="0.8" fill="#ffffff"/>
<rect x="165.8" y="387.0" width="11.2" height="0.8" fill="#ffffff"/>
<rect x="1" y="387.8" width="176" height="1.2" fill="#40e0d0"/>
<rect x="112.6" y="387.8" width="53.2" height="1.2" fill="#ff5000"/>
<rect x="112.6" y="387.8" width="11.6" height="1.2" fill="#c80000"/>
<rect x="126.6" y="387.8" width="11.4" height="1.2" fill="#c80000"/>
<rect x="140.2" y="387.8" width="12.0" height="1.2" fill="#c80000"/>
<rect x="154.2" y="387.8" width="11.6" height="1.2" fill="#c80000"/>
<rect x="165.8" y="387.8" width="11.2" height="1.2" fill="#60e0c0"/>
<rect x="1" y="389.0" width="176" height="1.0" fill="#ff9000"/>
<rect x="112.6" y="389.0" width="53.2" height="1.0" fill="#ff5000"/>
<rect x="112.6" y="389.0" width="11.6" height="1.0" fill="#c00000"/>
<rect x="126.6" y="389.0" width="11.4" height="1.0" fill="#c00000"/>
<rect x="140.2" y="389.0" width="12.0" height="1.0" fill="#c00000"/>
<rect x="154.2" y="389.0" width="11.6" height="1.0" fill="#c00000"/>
<rect x="1" y="390.0" width="176" height="1.0" fill="#1020c8"/>
<rect x="112.6" y="390.0" width="53.2" height="1.0" fill="#60d0c0"/>
<rect x="112.6" y="390.0" width="11.6" height="1.0" fill="#ffb030"/>
<rect x="126.6" y="390.0" width="11.4" height="1.0" fill="#ffb030"/>
<rect x="140.2" y="390.0" width="12.0" height="1.0" fill="#ffb030"/>
<rect x="154.2" y="390.0" width="11.6" height="1.0" fill="#ffb030"/>
<rect x="165.8" y="390.0" width="11.2" height="1.0" fill="#2050e8"/>
<rect x="1" y="391.0" width="176" height="1.0" fill="#ff9800"/>
<rect x="112.6" y="391.0" width="53.2" height="1.0" fill="#ffb000"/>
<rect x="112.6" y="391.0" width="11.6" height="1.0" fill="#e81800"/>
<rect x="126.6" y="391.0" width="11.4" height="1.0" fill="#e81800"/>
<rect x="140.2" y="391.0" width="12.0" height="1.0" fill="#e81800"/>
<rect x="154.2" y="391.0" width="11.6" height="1.0" fill="#e81800"/>
<rect x="1" y="392.0" width="176" height="1.0" fill="#1838e0"/>
<rect x="112.6" y="392.0" width="53.2" height="1.0" fill="#80e0a0"/>
<rect x="112.6" y="392.0" width="11.6" height="1.0" fill="#f03000"/>
<rect x="126.6" y="392.0" width="11.4" height="1.0" fill="#f03000"/>
<rect x="140.2" y="392.0" width="12.0" height="1.0" fill="#f03000"/>
<rect x="154.2" y="392.0" width="11.6" height="1.0" fill="#f03000"/>
<rect x="165.8" y="392.0" width="11.2" height="1.0" fill="#40c0e0"/>
<rect x="1" y="393.0" width="176" height="1.0" fill="#ffd800"/>
<rect x="112.6" y="393.0" width="53.2" height="1.0" fill="#ffa000"/>
<rect x="112.6" y="393.0" width="11.6" height="1.0" fill="#ff4000"/>
<rect x="126.6" y="393.0" width="11.4" height="1.0" fill="#ff4000"/>
<rect x="140.2" y="393.0" width="12.0" height="1.0" fill="#ff4000"/>
<rect x="154.2" y="393.0" width="11.6" height="1.0" fill="#ff4000"/>
<rect x="165.8" y="393.0" width="11.2" height="1.0" fill="#d0f040"/>
<rect x="1" y="394.0" width="176" height="2.0" fill="#1038e8"/>
<rect x="112.6" y="394.0" width="53.2" height="2.0" fill="#60d8c0"/>
<rect x="112.6" y="394.0" width="11.6" height="2.0" fill="#ff5800"/>
<rect x="126.6" y="394.0" width="11.4" height="2.0" fill="#ff5800"/>
<rect x="140.2" y="394.0" width="12.0" height="2.0" fill="#ff5800"/>
<rect x="154.2" y="394.0" width="11.6" height="2.0" fill="#ff5800"/>
<rect x="165.8" y="394.0" width="11.2" height="2.0" fill="#2060e8"/>
<rect x="1" y="396.0" width="176" height="2.2" fill="#ffffff"/>
<rect x="1" y="398.2" width="176" height="1.8" fill="#2890f0"/>
<rect x="112.6" y="398.2" width="53.2" height="1.8" fill="#60d8c0"/>
<rect x="112.6" y="398.2" width="11.6" height="1.8" fill="#ff4800"/>
<rect x="126.6" y="398.2" width="11.4" height="1.8" fill="#ff4800"/>
<rect x="140.2" y="398.2" width="12.0" height="1.8" fill="#ff4800"/>
<rect x="154.2" y="398.2" width="11.6" height="1.8" fill="#ff4800"/>
<rect x="165.8" y="398.2" width="11.2" height="1.8" fill="#30a0e8"/>
</g>
<rect x="1" y="13" width="176" height="1.8" fill="#000"/>
<rect x="1" y="92" width="176" height="4.7" fill="#000"/>
<path d="M42.5 640v-5.5M42.5 1v5.5M83.5 640v-5.5M83.5 1v5.5M125.5 640v-5.5M125.5 1v5.5M166.5 640v-5.5M166.5 1v5.5M1 507.5h5.5M177 507.5h-5.5M1 373.5h5.5M177 373.5h-5.5M1 240.5h5.5M177 240.5h-5.5M1 107.5h5.5M177 107.5h-5.5" stroke="#000" stroke-width="0.75" fill="none"/>
<rect x="0.5" y="0.5" width="177" height="640" fill="none" stroke="#000" stroke-width="1" shape-rendering="crispEdges"/>
<g opacity="0.999">
<text x="0.4" y="656" font-size="12.8" text-anchor="middle" textLength="22.3" lengthAdjust="spacingAndGlyphs">320</text>
<text x="42.4" y="656" font-size="12.8" text-anchor="middle" textLength="22.3" lengthAdjust="spacingAndGlyphs">335</text>
<text x="83.4" y="656" font-size="12.8" text-anchor="middle" textLength="22.3" lengthAdjust="spacingAndGlyphs">350</text>
<text x="125.4" y="656" font-size="12.8" text-anchor="middle" textLength="22.3" lengthAdjust="spacingAndGlyphs">365</text>
<text x="166.4" y="656" font-size="12.8" text-anchor="middle" textLength="22.3" lengthAdjust="spacingAndGlyphs">380</text>
<text x="-4.3" y="644" font-size="12.8" text-anchor="end" textLength="7.0" lengthAdjust="spacingAndGlyphs">0</text>
<text x="-5.2" y="510" font-size="12.8" text-anchor="end" textLength="7.0" lengthAdjust="spacingAndGlyphs">5</text>
<text x="-4.3" y="377" font-size="12.8" text-anchor="end" textLength="14.7" lengthAdjust="spacingAndGlyphs">10</text>
<text x="-5.2" y="244" font-size="12.8" text-anchor="end" textLength="14.7" lengthAdjust="spacingAndGlyphs">15</text>
<text x="-4.3" y="110" font-size="12.8" text-anchor="end" textLength="14.7" lengthAdjust="spacingAndGlyphs">20</text>
<text x="88.7" y="-7.2" font-size="16.8" text-anchor="middle" textLength="192.9" lengthAdjust="spacingAndGlyphs">YX, V10*V14=EA01*EA17</text>
</g>
</g>
<g opacity="0.999">
<text x="589.2" y="26" font-size="12.8" text-anchor="middle" textLength="127.4" lengthAdjust="spacingAndGlyphs">2022-02-16 0.0-24.0</text>
<text x="483.5" y="754.8" font-size="12.8" text-anchor="middle" textLength="103.2" lengthAdjust="spacingAndGlyphs">frequency (MHz)</text>
<text transform="translate(100.4,400) rotate(-90)" style="stroke-width:0.08px" font-size="12.8" text-anchor="middle" textLength="64.6" lengthAdjust="spacingAndGlyphs">UT (hours)</text>
</g>
<rect x="1020" y="160" width="14" height="480" fill="url(#jet)"/>
<path d="M1019.5 160.5h6M1034.5 160.5h-6M1019.5 256.5h6M1034.5 256.5h-6M1019.5 352.5h6M1034.5 352.5h-6M1019.5 448.5h6M1034.5 448.5h-6M1019.5 544.5h6M1034.5 544.5h-6M1019.5 640.5h6M1034.5 640.5h-6M1022.5 160.5v6M1022.5 640.5v-6M1025.5 160.5v6M1025.5 640.5v-6M1028.5 160.5v6M1028.5 640.5v-6M1031.5 160.5v6M1031.5 640.5v-6" stroke="#000" stroke-width="0.75" fill="none"/>
<rect x="1019.5" y="160.5" width="15" height="480" fill="none" stroke="#000" stroke-width="1" shape-rendering="crispEdges"/>
<g opacity="0.999">
<text x="1013" y="163.1" font-size="10.8" text-anchor="end" textLength="5.8" lengthAdjust="spacingAndGlyphs">1</text>
<text x="1013" y="259.1" font-size="10.8" text-anchor="end" textLength="5.8" lengthAdjust="spacingAndGlyphs">0</text>
<text x="1013" y="355.1" font-size="10.8" text-anchor="end" textLength="13.8" lengthAdjust="spacingAndGlyphs">−1</text>
<text x="1013" y="451.1" font-size="10.8" text-anchor="end" textLength="13.8" lengthAdjust="spacingAndGlyphs">−2</text>
<text x="1013" y="547.1" font-size="10.8" text-anchor="end" textLength="13.8" lengthAdjust="spacingAndGlyphs">−3</text>
<text x="1013" y="643.1" font-size="10.8" text-anchor="end" textLength="13.8" lengthAdjust="spacingAndGlyphs">−4</text>
<g transform="translate(985.4,447.4) rotate(-90)" class="ns"><text x="0" y="0" font-size="12.8" textLength="15.8" lengthAdjust="spacingAndGlyphs">log</text><text x="17.6" y="2.9" font-size="8.6" textLength="9" lengthAdjust="spacingAndGlyphs">10</text><text x="31.6" y="0" font-size="12.8" textLength="62" lengthAdjust="spacingAndGlyphs">amplitude</text></g>
</g>
<path d="M1017 646.5h1M1021 646.5h1M1024 646.5h1" stroke="#777" stroke-width="1"/><path d="M1027 646.5h1M1030 646.5h1M1033.3 646.5h1" stroke="#bbb" stroke-width="1"/>
</svg></body></html>
